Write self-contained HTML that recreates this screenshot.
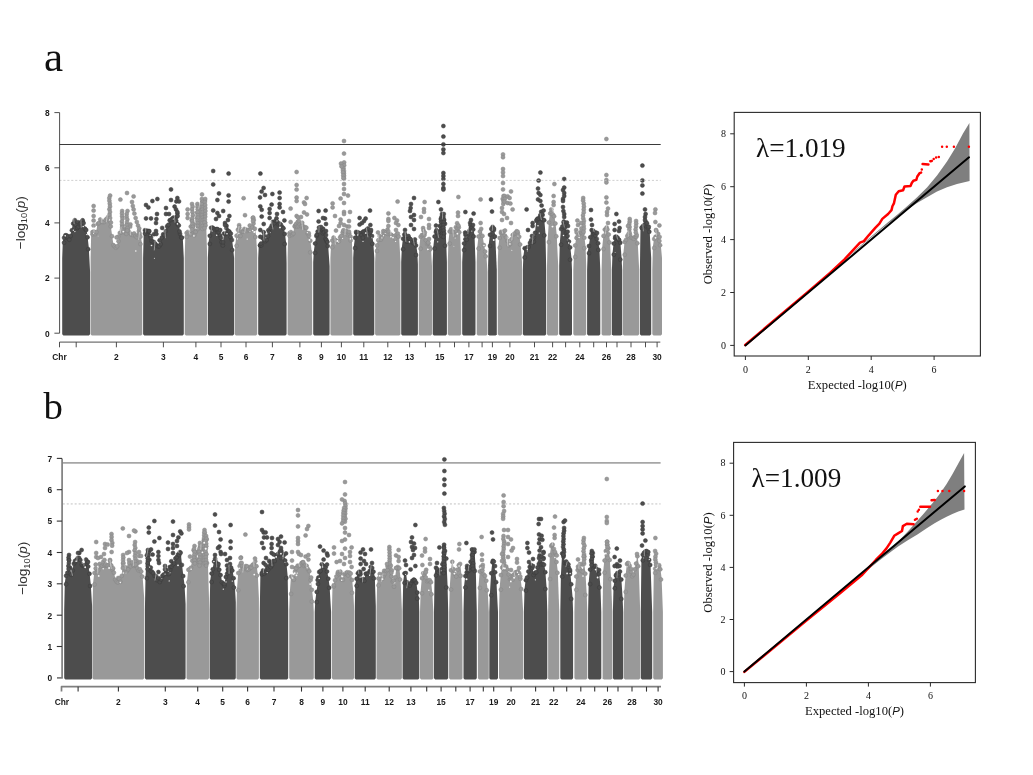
<!DOCTYPE html>
<html><head><meta charset="utf-8"><title>Figure</title>
<style>html,body{margin:0;padding:0;background:#fff}svg{display:block}</style>
</head><body>
<svg width="1033" height="775" viewBox="0 0 1033 775">
<rect width="1033" height="775" fill="#fff"/>
<g id="man-a">
<g fill="#4d4d4d" stroke="#3b3b3b" stroke-width="0.5"><path stroke="none" d="M62.2 334.2 L62.2 258 L62.8 241.3 L64.1 236.3 L65.4 233.9 L66.7 235.4 L68 236.8 L69.3 238.3 L70.6 234.6 L71.9 228.8 L73.2 222.2 L74.5 221.3 L75.8 223.3 L77.1 226.5 L78.4 225.2 L79.7 223.1 L81 221.9 L82.3 219.7 L83.6 221.6 L84.9 227.1 L86.2 228.6 L87.5 235.8 L88.8 247.8 L90.1 272 L90.1 334.2 L88.9 335.4 L63.4 335.4Z"/><circle cx="64.1" cy="242.7" r="2"/><circle cx="64.1" cy="237.8" r="2"/><circle cx="65.4" cy="235.3" r="2"/><circle cx="66.7" cy="236.9" r="2"/><circle cx="66.7" cy="235.4" r="2"/><circle cx="68" cy="238.2" r="2"/><circle cx="67.9" cy="236.5" r="2"/><circle cx="69.3" cy="239.7" r="2"/><circle cx="70.6" cy="236" r="2"/><circle cx="71.9" cy="230.3" r="2"/><circle cx="73.2" cy="223.6" r="2"/><circle cx="74.5" cy="222.7" r="2"/><circle cx="74.8" cy="220.2" r="2"/><circle cx="75.8" cy="224.8" r="2"/><circle cx="77.1" cy="228" r="2"/><circle cx="77.4" cy="227.8" r="2"/><circle cx="78.4" cy="226.6" r="2"/><circle cx="77.9" cy="222.2" r="2"/><circle cx="79.7" cy="224.5" r="2"/><circle cx="80.2" cy="223.7" r="2"/><circle cx="81" cy="223.4" r="2"/><circle cx="81.4" cy="221.8" r="2"/><circle cx="82.3" cy="221.2" r="2"/><circle cx="82.6" cy="220.3" r="2"/><circle cx="83.6" cy="223.1" r="2"/><circle cx="84.9" cy="228.6" r="2"/><circle cx="86.2" cy="230" r="2"/><circle cx="87.5" cy="237.3" r="2"/><circle cx="88.2" cy="249.2" r="2"/></g><g fill="#fff" fill-opacity="0.95"><circle cx="65.2" cy="235.8" r="0.83"/><circle cx="73.4" cy="230.2" r="0.66"/><circle cx="74.9" cy="231.6" r="0.67"/><circle cx="83.2" cy="226.5" r="0.78"/><circle cx="86.6" cy="234.6" r="0.55"/><path d="M73.6 218.5L74.2 223.8M80.9 218.8L81.2 227.3" stroke="#fff" stroke-width="0.55" stroke-opacity="0.75" fill="none" stroke-linecap="round"/></g>
<g fill="#999999" stroke="#868686" stroke-width="0.5"><path stroke="none" d="M90.6 334.2 L90.6 258 L91.2 232.8 L92.5 230.7 L93.8 230.1 L95.1 232.7 L96.4 230.7 L97.7 222.4 L99 221.5 L100.3 218.1 L101.6 220.2 L102.9 220.6 L104.2 220.6 L105.5 218.5 L106.8 217.2 L108.1 215.7 L109.4 219.1 L110.7 224.9 L112 234.8 L113.3 243.7 L114.6 245 L115.9 246.4 L117.2 244.8 L118.5 239.9 L119.8 231.4 L121.1 231.1 L122.4 227.5 L123.7 230.6 L125 229.8 L126.3 232.4 L127.6 228.4 L128.9 230.1 L130.2 232 L131.5 233.3 L132.8 233.5 L134.1 232 L135.4 234.5 L136.7 235.8 L138 233.5 L139.3 233.8 L140.6 235.2 L141.9 242.7 L142.3 258 L142.3 334.2 L141.1 335.4 L91.8 335.4Z"/><circle cx="92.5" cy="234.3" r="2"/><circle cx="92.5" cy="232.1" r="2"/><circle cx="93.8" cy="231.6" r="2"/><circle cx="95.1" cy="234.1" r="2"/><circle cx="96.4" cy="232.1" r="2"/><circle cx="97.7" cy="223.9" r="2"/><circle cx="99" cy="223" r="2"/><circle cx="100.3" cy="219.5" r="2"/><circle cx="101.6" cy="221.7" r="2"/><circle cx="102.9" cy="222.1" r="2"/><circle cx="104.2" cy="222" r="2"/><circle cx="105.5" cy="219.9" r="2"/><circle cx="106.8" cy="218.7" r="2"/><circle cx="108.1" cy="217.1" r="2"/><circle cx="109.4" cy="220.5" r="2"/><circle cx="109.4" cy="215" r="2"/><circle cx="110.7" cy="226.4" r="2"/><circle cx="110.9" cy="222.6" r="2"/><circle cx="112" cy="236.2" r="2"/><circle cx="113.3" cy="245.1" r="2"/><circle cx="114.6" cy="246.4" r="2"/><circle cx="115.9" cy="247.8" r="2"/><circle cx="117.2" cy="246.3" r="2"/><circle cx="118.5" cy="241.3" r="2"/><circle cx="118.2" cy="236.7" r="2"/><circle cx="119.8" cy="232.9" r="2"/><circle cx="121.1" cy="232.5" r="2"/><circle cx="122.4" cy="228.9" r="2"/><circle cx="122.5" cy="225.7" r="2"/><circle cx="123.7" cy="232.1" r="2"/><circle cx="123.1" cy="229.5" r="2"/><circle cx="125" cy="231.3" r="2"/><circle cx="126.3" cy="233.8" r="2"/><circle cx="125.9" cy="229" r="2"/><circle cx="127.6" cy="229.9" r="2"/><circle cx="127.4" cy="228.3" r="2"/><circle cx="128.9" cy="231.6" r="2"/><circle cx="130.2" cy="233.5" r="2"/><circle cx="130.4" cy="224.4" r="2"/><circle cx="130.1" cy="226.8" r="2"/><circle cx="131.5" cy="234.7" r="2"/><circle cx="132.8" cy="235" r="2"/><circle cx="134.1" cy="233.4" r="2"/><circle cx="135.4" cy="236" r="2"/><circle cx="136.7" cy="237.3" r="2"/><circle cx="138" cy="234.9" r="2"/><circle cx="139.3" cy="235.3" r="2"/><circle cx="138.9" cy="231.1" r="2"/><circle cx="139.6" cy="233.5" r="2"/><circle cx="140.4" cy="236.7" r="2"/><circle cx="140.4" cy="244.1" r="2"/><circle cx="110.1" cy="195.6" r="2"/><circle cx="109.3" cy="198.1" r="2"/><circle cx="109.4" cy="200.8" r="2"/><circle cx="109.8" cy="203.7" r="2"/><circle cx="110" cy="206.5" r="2"/><circle cx="109.4" cy="209.3" r="2"/><circle cx="110" cy="212" r="2"/><circle cx="109.3" cy="215" r="2"/><circle cx="110.1" cy="218" r="2"/><circle cx="122.1" cy="211" r="2"/><circle cx="122" cy="213.5" r="2"/><circle cx="122.1" cy="216.3" r="2"/><circle cx="122.5" cy="218.7" r="2"/><circle cx="121.9" cy="221.5" r="2"/><circle cx="122.1" cy="224.4" r="2"/><circle cx="122.2" cy="227.2" r="2"/><circle cx="122" cy="229.6" r="2"/><circle cx="127.5" cy="211" r="2"/><circle cx="126.7" cy="214" r="2"/><circle cx="126.6" cy="216.8" r="2"/><circle cx="127.3" cy="219.5" r="2"/><circle cx="127" cy="222.5" r="2"/><circle cx="126.7" cy="225.1" r="2"/><circle cx="127.5" cy="228" r="2"/><circle cx="127.3" cy="230.5" r="2"/><circle cx="93.6" cy="206" r="2"/><circle cx="93.6" cy="210.6" r="2"/><circle cx="93.6" cy="216" r="2"/><circle cx="93.6" cy="220.6" r="2"/><circle cx="93.6" cy="225.6" r="2"/><circle cx="120.4" cy="199.6" r="2"/><circle cx="127" cy="193" r="2"/><circle cx="133.6" cy="196.4" r="2"/><circle cx="116.6" cy="237.4" r="2"/><circle cx="132" cy="202" r="2"/><circle cx="132.8" cy="206" r="2"/><circle cx="133.6" cy="209.4" r="2"/><circle cx="134.4" cy="213.6" r="2"/><circle cx="135.6" cy="218" r="2"/><circle cx="136.8" cy="222" r="2"/><circle cx="138" cy="225.6" r="2"/><circle cx="139.2" cy="228.4" r="2"/></g><g fill="#fff" fill-opacity="0.95"><circle cx="93.5" cy="233.3" r="0.55"/><circle cx="98.1" cy="236.1" r="0.46"/><circle cx="109.6" cy="219.9" r="0.71"/><circle cx="123.3" cy="231.6" r="0.91"/><circle cx="135.8" cy="251" r="0.75"/><path d="M93.7 227.1L94.2 232.3M101.6 216.5L101.9 222.5M107.5 213.9L106.4 221.9M121.1 227.5L120.2 232.9M130.9 228.5L130.5 234.9M139.6 232.4L138.6 239.3" stroke="#fff" stroke-width="0.55" stroke-opacity="0.75" fill="none" stroke-linecap="round"/></g>
<g fill="#4d4d4d" stroke="#3b3b3b" stroke-width="0.5"><path stroke="none" d="M143.1 334.2 L143.1 258 L143.7 232.2 L145 228.8 L146.3 229.6 L147.6 229.4 L148.9 230.1 L150.2 234.3 L151.5 239.7 L152.8 240.1 L154.1 240.7 L155.4 242.7 L156.7 243.9 L158 244.9 L159.3 244.8 L160.6 242.8 L161.9 236 L163.2 232.9 L164.5 233.8 L165.8 229.6 L167.1 224.8 L168.4 223.4 L169.7 218.9 L171 218.5 L172.3 217.1 L173.6 216.1 L174.9 217.1 L176.2 219.4 L177.5 222.6 L178.8 223.9 L180.1 232.5 L181.4 236 L182.7 236.2 L183.8 258 L183.8 334.2 L182.6 335.4 L144.3 335.4Z"/><circle cx="145" cy="233.6" r="2"/><circle cx="145" cy="230.2" r="2"/><circle cx="146.3" cy="231.1" r="2"/><circle cx="147.6" cy="230.8" r="2"/><circle cx="148.9" cy="231.6" r="2"/><circle cx="149.3" cy="231.1" r="2"/><circle cx="150.2" cy="235.7" r="2"/><circle cx="151.5" cy="241.1" r="2"/><circle cx="151" cy="237.8" r="2"/><circle cx="152.8" cy="241.6" r="2"/><circle cx="154.1" cy="242.2" r="2"/><circle cx="154" cy="234.2" r="2"/><circle cx="155.4" cy="244.1" r="2"/><circle cx="156.7" cy="245.4" r="2"/><circle cx="158" cy="246.4" r="2"/><circle cx="159.3" cy="246.2" r="2"/><circle cx="159.6" cy="240.3" r="2"/><circle cx="160.6" cy="244.2" r="2"/><circle cx="161.9" cy="237.5" r="2"/><circle cx="162.2" cy="227.9" r="2"/><circle cx="163.2" cy="234.3" r="2"/><circle cx="164.5" cy="235.2" r="2"/><circle cx="165.8" cy="231" r="2"/><circle cx="167.1" cy="226.2" r="2"/><circle cx="168.4" cy="224.8" r="2"/><circle cx="169.7" cy="220.3" r="2"/><circle cx="171" cy="219.9" r="2"/><circle cx="172.3" cy="218.5" r="2"/><circle cx="173.6" cy="217.5" r="2"/><circle cx="174.9" cy="218.6" r="2"/><circle cx="176.2" cy="220.8" r="2"/><circle cx="176.5" cy="217.1" r="2"/><circle cx="177.5" cy="224" r="2"/><circle cx="177.4" cy="213.6" r="2"/><circle cx="177.6" cy="216" r="2"/><circle cx="178.8" cy="225.4" r="2"/><circle cx="180.1" cy="233.9" r="2"/><circle cx="179.5" cy="231.4" r="2"/><circle cx="181.4" cy="237.5" r="2"/><circle cx="181.9" cy="237.7" r="2"/><circle cx="146" cy="205" r="2"/><circle cx="148.4" cy="207.4" r="2"/><circle cx="152.4" cy="201" r="2"/><circle cx="157.4" cy="199" r="2"/><circle cx="146" cy="218.4" r="2"/><circle cx="151" cy="218.4" r="2"/><circle cx="157" cy="214" r="2"/><circle cx="156.4" cy="219" r="2"/><circle cx="156" cy="223" r="2"/><circle cx="156" cy="231" r="2"/><circle cx="156.4" cy="234" r="2"/><circle cx="166" cy="208" r="2"/><circle cx="166" cy="214" r="2"/><circle cx="171" cy="189.4" r="2"/><circle cx="171" cy="200" r="2"/><circle cx="177.4" cy="198" r="2"/><circle cx="176.4" cy="201.4" r="2"/><circle cx="179" cy="201.4" r="2"/><circle cx="174.6" cy="206.6" r="2"/><circle cx="176" cy="209.4" r="2"/><circle cx="177.4" cy="212" r="2"/><circle cx="169" cy="214" r="2"/></g><g fill="#fff" fill-opacity="0.95"><circle cx="150.1" cy="235.2" r="0.56"/><circle cx="151.5" cy="245.5" r="0.83"/><circle cx="154.4" cy="258.2" r="0.50"/><circle cx="173.3" cy="219" r="0.59"/><circle cx="177.5" cy="223.9" r="0.79"/><path d="M145.8 223.1L145.6 232.1M155.1 240.6L154.3 250M164.8 228.7L165.5 237.8M174 212.9L175 222.3" stroke="#fff" stroke-width="0.55" stroke-opacity="0.75" fill="none" stroke-linecap="round"/></g>
<g fill="#999999" stroke="#868686" stroke-width="0.5"><path stroke="none" d="M184.7 334.2 L184.7 258 L185.3 235.4 L186.6 231.5 L187.9 230.5 L189.2 231.8 L190.5 232.8 L191.8 218.8 L193.1 224.9 L194.4 233.8 L195.7 230.3 L197 216.5 L198.3 205.9 L199.6 205.6 L200.9 205 L202.2 200.9 L203.5 201.6 L204.8 199.4 L206.1 221.3 L207.2 258 L207.2 334.2 L206 335.4 L185.9 335.4Z"/><circle cx="186.6" cy="236.9" r="2"/><circle cx="186.6" cy="233" r="2"/><circle cx="187.9" cy="231.9" r="2"/><circle cx="189.2" cy="233.3" r="2"/><circle cx="190.5" cy="234.3" r="2"/><circle cx="190.8" cy="226.6" r="2"/><circle cx="191.8" cy="220.2" r="2"/><circle cx="193.1" cy="226.3" r="2"/><circle cx="193.7" cy="224.2" r="2"/><circle cx="194.4" cy="235.2" r="2"/><circle cx="193.9" cy="230.6" r="2"/><circle cx="195.7" cy="231.8" r="2"/><circle cx="197" cy="217.9" r="2"/><circle cx="197.1" cy="212.8" r="2"/><circle cx="198.3" cy="207.3" r="2"/><circle cx="199.6" cy="207.1" r="2"/><circle cx="200.9" cy="206.4" r="2"/><circle cx="202.2" cy="202.4" r="2"/><circle cx="202.3" cy="202.1" r="2"/><circle cx="203.5" cy="203" r="2"/><circle cx="204.8" cy="200.8" r="2"/><circle cx="205.3" cy="222.8" r="2"/><circle cx="192" cy="204" r="2"/><circle cx="192.6" cy="206.7" r="2"/><circle cx="192" cy="209.3" r="2"/><circle cx="192.5" cy="212.2" r="2"/><circle cx="192.9" cy="215.2" r="2"/><circle cx="192.3" cy="218.3" r="2"/><circle cx="192.2" cy="221.2" r="2"/><circle cx="192.3" cy="223.9" r="2"/><circle cx="192.8" cy="226.9" r="2"/><circle cx="192.2" cy="229.5" r="2"/><circle cx="197.4" cy="204" r="2"/><circle cx="197.5" cy="206.7" r="2"/><circle cx="197.7" cy="209.2" r="2"/><circle cx="197.6" cy="212.2" r="2"/><circle cx="197.7" cy="215.2" r="2"/><circle cx="197.9" cy="217.7" r="2"/><circle cx="197.4" cy="220.7" r="2"/><circle cx="197.6" cy="223.1" r="2"/><circle cx="197.7" cy="225.9" r="2"/><circle cx="197.8" cy="229" r="2"/><circle cx="201.9" cy="199" r="2"/><circle cx="202.7" cy="201.8" r="2"/><circle cx="201.9" cy="204.2" r="2"/><circle cx="202.8" cy="207.2" r="2"/><circle cx="202.5" cy="209.6" r="2"/><circle cx="202.7" cy="212.1" r="2"/><circle cx="202.1" cy="215" r="2"/><circle cx="202.7" cy="217.5" r="2"/><circle cx="202.7" cy="220.3" r="2"/><circle cx="202.2" cy="223" r="2"/><circle cx="202.6" cy="226" r="2"/><circle cx="202.4" cy="228.8" r="2"/><circle cx="205.2" cy="199" r="2"/><circle cx="204.9" cy="202" r="2"/><circle cx="205.2" cy="205" r="2"/><circle cx="205.3" cy="208" r="2"/><circle cx="205.4" cy="211" r="2"/><circle cx="205.2" cy="214.1" r="2"/><circle cx="205.2" cy="216.8" r="2"/><circle cx="204.9" cy="219.8" r="2"/><circle cx="204.6" cy="222.5" r="2"/><circle cx="205.5" cy="225.4" r="2"/><circle cx="204.6" cy="228.1" r="2"/><circle cx="202" cy="194.4" r="2"/><circle cx="187.6" cy="209.4" r="2"/><circle cx="187.6" cy="214" r="2"/><circle cx="187.6" cy="218" r="2"/></g><g fill="#fff" fill-opacity="0.95"><circle cx="193.9" cy="235.9" r="0.79"/><circle cx="196.8" cy="228.6" r="0.49"/><path d="M188.5 228.5L189.9 234.1M200 202.7L198.8 208.4" stroke="#fff" stroke-width="0.55" stroke-opacity="0.75" fill="none" stroke-linecap="round"/></g>
<g fill="#4d4d4d" stroke="#3b3b3b" stroke-width="0.5"><path stroke="none" d="M207.9 334.2 L207.9 258 L208.5 242.5 L209.8 234.4 L211.1 226.3 L212.4 226.2 L213.7 227.1 L215 227.9 L216.3 227.7 L217.6 231 L218.9 230.7 L220.2 234 L221.5 240.6 L222.8 244 L224.1 232 L225.4 232.5 L226.7 231.8 L228 229.3 L229.3 230.1 L230.6 235.7 L231.9 238.5 L233.2 248.6 L234.1 258 L234.1 334.2 L232.9 335.4 L209.1 335.4Z"/><circle cx="209.8" cy="243.9" r="2"/><circle cx="209.8" cy="235.8" r="2"/><circle cx="211.1" cy="227.8" r="2"/><circle cx="212.4" cy="227.6" r="2"/><circle cx="213.7" cy="228.6" r="2"/><circle cx="215" cy="229.4" r="2"/><circle cx="216.3" cy="229.1" r="2"/><circle cx="217.6" cy="232.5" r="2"/><circle cx="217.5" cy="229.1" r="2"/><circle cx="218.9" cy="232.2" r="2"/><circle cx="220.2" cy="235.5" r="2"/><circle cx="220.2" cy="230.1" r="2"/><circle cx="221.5" cy="242.1" r="2"/><circle cx="220.9" cy="238" r="2"/><circle cx="222.8" cy="245.5" r="2"/><circle cx="223" cy="242.2" r="2"/><circle cx="224.1" cy="233.5" r="2"/><circle cx="225.4" cy="233.9" r="2"/><circle cx="226.7" cy="233.3" r="2"/><circle cx="226.5" cy="225.8" r="2"/><circle cx="226.3" cy="228.2" r="2"/><circle cx="228" cy="230.7" r="2"/><circle cx="229.3" cy="231.5" r="2"/><circle cx="230.6" cy="237.2" r="2"/><circle cx="230.8" cy="233.6" r="2"/><circle cx="231.9" cy="240" r="2"/><circle cx="232.2" cy="250.1" r="2"/><circle cx="213.2" cy="171" r="2"/><circle cx="213.2" cy="184.4" r="2"/><circle cx="219" cy="193.4" r="2"/><circle cx="217.4" cy="200" r="2"/><circle cx="213.2" cy="210.4" r="2"/><circle cx="217.4" cy="213" r="2"/><circle cx="219" cy="216" r="2"/><circle cx="216" cy="219" r="2"/><circle cx="223.2" cy="211" r="2"/><circle cx="228.6" cy="173.6" r="2"/><circle cx="228.6" cy="195.4" r="2"/><circle cx="228.6" cy="201.6" r="2"/><circle cx="229.4" cy="216" r="2"/><circle cx="228" cy="220" r="2"/><circle cx="225" cy="223" r="2"/><circle cx="225" cy="225" r="2"/></g><g fill="#fff" fill-opacity="0.95"><circle cx="212.2" cy="231" r="0.62"/><circle cx="216.7" cy="235.3" r="0.74"/><circle cx="227" cy="233.7" r="0.74"/><path d="M211.3 224.2L211.4 230.3M224.9 228L224.6 233.9" stroke="#fff" stroke-width="0.55" stroke-opacity="0.75" fill="none" stroke-linecap="round"/></g>
<g fill="#999999" stroke="#868686" stroke-width="0.5"><path stroke="none" d="M234.7 334.2 L234.7 258 L235.3 244.4 L236.6 234.2 L237.9 228.3 L239.2 231.6 L240.5 234.5 L241.8 229.7 L243.1 230.3 L244.4 227.5 L245.7 228.1 L247 229.5 L248.3 228.3 L249.6 228.7 L250.9 227.6 L252.2 226 L253.5 222.1 L254.8 227.3 L256.1 235.5 L257.2 254 L257.2 334.2 L256 335.4 L235.9 335.4Z"/><circle cx="236.6" cy="245.8" r="2"/><circle cx="236.6" cy="235.7" r="2"/><circle cx="237.9" cy="229.8" r="2"/><circle cx="239.2" cy="233" r="2"/><circle cx="239.1" cy="225.2" r="2"/><circle cx="239.3" cy="227.6" r="2"/><circle cx="240.5" cy="235.9" r="2"/><circle cx="241.8" cy="231.2" r="2"/><circle cx="243.1" cy="231.7" r="2"/><circle cx="244.4" cy="228.9" r="2"/><circle cx="245.7" cy="229.6" r="2"/><circle cx="247" cy="231" r="2"/><circle cx="248.3" cy="229.8" r="2"/><circle cx="249.6" cy="230.1" r="2"/><circle cx="249.8" cy="225.5" r="2"/><circle cx="250.9" cy="229.1" r="2"/><circle cx="252.2" cy="227.4" r="2"/><circle cx="252.8" cy="218" r="2"/><circle cx="253.5" cy="223.5" r="2"/><circle cx="253.2" cy="217.6" r="2"/><circle cx="253.8" cy="220" r="2"/><circle cx="254.8" cy="228.7" r="2"/><circle cx="255.3" cy="237" r="2"/><circle cx="243.6" cy="198.2" r="2"/><circle cx="245" cy="215.2" r="2"/><circle cx="253" cy="221" r="2"/></g><g fill="#fff" fill-opacity="0.95"><circle cx="237.5" cy="238.9" r="0.55"/><circle cx="238.9" cy="233.6" r="0.67"/><circle cx="247.2" cy="239.1" r="0.64"/><circle cx="250" cy="231.2" r="0.50"/><circle cx="252.6" cy="230.5" r="0.76"/><circle cx="254.3" cy="232" r="0.97"/><path d="M239 226.4L237.5 234.8M245.8 226.2L244.7 232.8" stroke="#fff" stroke-width="0.55" stroke-opacity="0.75" fill="none" stroke-linecap="round"/></g>
<g fill="#4d4d4d" stroke="#3b3b3b" stroke-width="0.5"><path stroke="none" d="M258.2 334.2 L258.2 258 L258.8 243.8 L260.1 244 L261.4 243.9 L262.7 236.8 L264 234.5 L265.3 239.7 L266.6 238.6 L267.9 234.9 L269.2 230.7 L270.5 226.6 L271.8 223.9 L273.1 220.4 L274.4 221.7 L275.7 219.3 L277 220 L278.3 222.8 L279.6 222 L280.9 223.3 L282.2 225.5 L283.5 226.8 L284.8 232.5 L286.1 242.6 L286.6 263 L286.6 334.2 L285.4 335.4 L259.4 335.4Z"/><circle cx="260.1" cy="245.3" r="2"/><circle cx="260.1" cy="245.5" r="2"/><circle cx="261.4" cy="245.3" r="2"/><circle cx="262.7" cy="238.3" r="2"/><circle cx="264" cy="235.9" r="2"/><circle cx="265.3" cy="241.2" r="2"/><circle cx="266.6" cy="240" r="2"/><circle cx="267.9" cy="236.3" r="2"/><circle cx="268.4" cy="230.2" r="2"/><circle cx="269.2" cy="232.1" r="2"/><circle cx="270.5" cy="228" r="2"/><circle cx="271.8" cy="225.4" r="2"/><circle cx="273.1" cy="221.8" r="2"/><circle cx="274.4" cy="223.2" r="2"/><circle cx="275.7" cy="220.7" r="2"/><circle cx="277" cy="221.5" r="2"/><circle cx="276.5" cy="218.3" r="2"/><circle cx="278.3" cy="224.3" r="2"/><circle cx="279.6" cy="223.5" r="2"/><circle cx="280.9" cy="224.7" r="2"/><circle cx="282.2" cy="227" r="2"/><circle cx="283.5" cy="228.3" r="2"/><circle cx="284.7" cy="234" r="2"/><circle cx="284.7" cy="244" r="2"/><circle cx="260.4" cy="173.6" r="2"/><circle cx="263.6" cy="188" r="2"/><circle cx="261.6" cy="191.6" r="2"/><circle cx="265" cy="195" r="2"/><circle cx="260" cy="197.4" r="2"/><circle cx="260.3" cy="206.4" r="2"/><circle cx="261.7" cy="209.8" r="2"/><circle cx="261.7" cy="216.6" r="2"/><circle cx="263.7" cy="224" r="2"/><circle cx="260.3" cy="230" r="2"/><circle cx="263.7" cy="232.2" r="2"/><circle cx="260.3" cy="236.8" r="2"/><circle cx="261" cy="243.6" r="2"/><circle cx="272.4" cy="194" r="2"/><circle cx="279.6" cy="192.6" r="2"/><circle cx="279.6" cy="198" r="2"/><circle cx="271.6" cy="204.6" r="2"/><circle cx="269.6" cy="209" r="2"/><circle cx="269.6" cy="213" r="2"/><circle cx="269.6" cy="218" r="2"/><circle cx="279.6" cy="204" r="2"/><circle cx="279.6" cy="207.4" r="2"/><circle cx="283" cy="212" r="2"/><circle cx="277" cy="214" r="2"/><circle cx="284.4" cy="220.4" r="2"/></g><g fill="#fff" fill-opacity="0.95"><circle cx="270.4" cy="232.7" r="0.48"/><circle cx="277" cy="220.8" r="0.58"/><circle cx="280" cy="227.4" r="0.96"/><path d="M263.4 231.4L264 240.2M271.6 221.2L272.9 229M280.6 220.7L279.8 225.1" stroke="#fff" stroke-width="0.55" stroke-opacity="0.75" fill="none" stroke-linecap="round"/></g>
<g fill="#999999" stroke="#868686" stroke-width="0.5"><path stroke="none" d="M287.6 334.2 L287.6 258 L288.2 234.3 L289.5 231.8 L290.8 230.7 L292.1 233.4 L293.4 232.1 L294.7 225.1 L296 223.7 L297.3 225 L298.6 224.6 L299.9 223.2 L301.2 224.7 L302.5 223.9 L303.8 226.3 L305.1 225.7 L306.4 226.2 L307.7 232.1 L309 234.3 L310.3 239.3 L311.6 250.8 L312.2 262 L312.2 334.2 L311 335.4 L288.8 335.4Z"/><circle cx="289.5" cy="235.8" r="2"/><circle cx="289.5" cy="233.2" r="2"/><circle cx="290.8" cy="232.1" r="2"/><circle cx="292.1" cy="234.9" r="2"/><circle cx="293.4" cy="233.6" r="2"/><circle cx="294.7" cy="226.6" r="2"/><circle cx="295" cy="225.8" r="2"/><circle cx="296" cy="225.2" r="2"/><circle cx="296" cy="224.1" r="2"/><circle cx="297.3" cy="226.5" r="2"/><circle cx="297.6" cy="222.1" r="2"/><circle cx="298.6" cy="226.1" r="2"/><circle cx="298.8" cy="221" r="2"/><circle cx="299.9" cy="224.6" r="2"/><circle cx="301.2" cy="226.2" r="2"/><circle cx="302.5" cy="225.4" r="2"/><circle cx="302.2" cy="222.8" r="2"/><circle cx="303.8" cy="227.8" r="2"/><circle cx="305.1" cy="227.2" r="2"/><circle cx="306.4" cy="227.7" r="2"/><circle cx="307.7" cy="233.5" r="2"/><circle cx="309" cy="235.8" r="2"/><circle cx="308.8" cy="233.2" r="2"/><circle cx="310.3" cy="240.7" r="2"/><circle cx="310.3" cy="252.3" r="2"/><circle cx="296.6" cy="172" r="2"/><circle cx="296.6" cy="185" r="2"/><circle cx="296.6" cy="189.6" r="2"/><circle cx="296.6" cy="197.6" r="2"/><circle cx="296.6" cy="201" r="2"/><circle cx="290.6" cy="208.6" r="2"/><circle cx="290.6" cy="222" r="2"/><circle cx="306.6" cy="198" r="2"/><circle cx="304" cy="202.4" r="2"/><circle cx="305" cy="204" r="2"/><circle cx="304" cy="212.4" r="2"/><circle cx="307" cy="214.4" r="2"/><circle cx="296.6" cy="216" r="2"/><circle cx="298" cy="217.4" r="2"/><circle cx="301" cy="217" r="2"/></g><g fill="#fff" fill-opacity="0.95"><circle cx="307.3" cy="232.6" r="0.69"/><circle cx="309.4" cy="240" r="0.89"/><path d="M290.6 225.7L289.6 231.1M301.8 221.2L302.7 229.7" stroke="#fff" stroke-width="0.55" stroke-opacity="0.75" fill="none" stroke-linecap="round"/></g>
<g fill="#4d4d4d" stroke="#3b3b3b" stroke-width="0.5"><path stroke="none" d="M313.2 334.2 L313.2 262 L313.8 251.4 L315.1 242 L316.4 234.7 L317.7 230.1 L319 226.2 L320.3 227.5 L321.6 227.8 L322.9 231.8 L324.2 230.7 L325.5 237.2 L326.8 240 L328.1 244.5 L329.6 266 L329.6 334.2 L328.4 335.4 L314.4 335.4Z"/><circle cx="315.1" cy="252.9" r="2"/><circle cx="315.1" cy="243.5" r="2"/><circle cx="316.4" cy="236.1" r="2"/><circle cx="316.8" cy="234.7" r="2"/><circle cx="317.7" cy="231.5" r="2"/><circle cx="319" cy="227.6" r="2"/><circle cx="320.3" cy="228.9" r="2"/><circle cx="321.6" cy="229.2" r="2"/><circle cx="322.9" cy="233.3" r="2"/><circle cx="323.1" cy="228.7" r="2"/><circle cx="324.2" cy="232.2" r="2"/><circle cx="325.5" cy="238.7" r="2"/><circle cx="326.8" cy="241.5" r="2"/><circle cx="326.4" cy="239.9" r="2"/><circle cx="327.7" cy="246" r="2"/><circle cx="318.6" cy="211" r="2"/><circle cx="325.6" cy="210.6" r="2"/><circle cx="325" cy="218.6" r="2"/><circle cx="323" cy="218" r="2"/><circle cx="318.6" cy="221.4" r="2"/><circle cx="326" cy="224" r="2"/><circle cx="321" cy="227" r="2"/><circle cx="326" cy="231" r="2"/><circle cx="326" cy="235" r="2"/><circle cx="327.4" cy="242" r="2"/></g><g fill="#fff" fill-opacity="0.95"><path d="M319.1 226.5L318.9 232.2" stroke="#fff" stroke-width="0.55" stroke-opacity="0.75" fill="none" stroke-linecap="round"/></g>
<g fill="#999999" stroke="#868686" stroke-width="0.5"><path stroke="none" d="M330.4 334.2 L330.4 258 L331 245.8 L332.3 239.1 L333.6 236.1 L334.9 238.5 L336.2 239 L337.5 240.4 L338.8 239.9 L340.1 235.9 L341.4 234.2 L342.7 230.9 L344 229.3 L345.3 229.8 L346.6 229.6 L347.9 233.5 L349.2 232.1 L350.5 235 L351.8 239 L352.5 258 L352.5 334.2 L351.3 335.4 L331.6 335.4Z"/><circle cx="332.3" cy="247.3" r="2"/><circle cx="332.3" cy="240.6" r="2"/><circle cx="333.6" cy="237.6" r="2"/><circle cx="334.9" cy="239.9" r="2"/><circle cx="336.2" cy="240.5" r="2"/><circle cx="337.5" cy="241.8" r="2"/><circle cx="338.8" cy="241.4" r="2"/><circle cx="340.1" cy="237.3" r="2"/><circle cx="341.4" cy="235.7" r="2"/><circle cx="342.7" cy="232.3" r="2"/><circle cx="344" cy="230.7" r="2"/><circle cx="343.4" cy="230.3" r="2"/><circle cx="345.3" cy="231.3" r="2"/><circle cx="346.6" cy="231.1" r="2"/><circle cx="346.8" cy="226.5" r="2"/><circle cx="347.9" cy="234.9" r="2"/><circle cx="349.2" cy="233.6" r="2"/><circle cx="349" cy="231.7" r="2"/><circle cx="350.5" cy="236.5" r="2"/><circle cx="350.6" cy="240.5" r="2"/><circle cx="344.1" cy="162.4" r="2"/><circle cx="344.1" cy="165.3" r="2"/><circle cx="343.5" cy="168.2" r="2"/><circle cx="343.9" cy="170.9" r="2"/><circle cx="343.9" cy="173.3" r="2"/><circle cx="344" cy="175.7" r="2"/><circle cx="344" cy="178.5" r="2"/><circle cx="342.9" cy="170" r="2"/><circle cx="343" cy="172.4" r="2"/><circle cx="343.3" cy="175.4" r="2"/><circle cx="343.4" cy="178" r="2"/><circle cx="341" cy="163.6" r="2"/><circle cx="341.5" cy="166.4" r="2"/><circle cx="344" cy="141" r="2"/><circle cx="344" cy="153.6" r="2"/><circle cx="344" cy="184" r="2"/><circle cx="344" cy="189" r="2"/><circle cx="344" cy="194" r="2"/><circle cx="348" cy="195.6" r="2"/><circle cx="340.6" cy="198.6" r="2"/><circle cx="344" cy="203" r="2"/><circle cx="332.6" cy="203.4" r="2"/><circle cx="332.6" cy="207.4" r="2"/><circle cx="344" cy="212" r="2"/><circle cx="344" cy="214" r="2"/><circle cx="350" cy="212" r="2"/><circle cx="335" cy="216" r="2"/><circle cx="340.6" cy="219.6" r="2"/><circle cx="349" cy="221" r="2"/><circle cx="340.6" cy="223" r="2"/><circle cx="339" cy="226" r="2"/><circle cx="349" cy="226.6" r="2"/><circle cx="336" cy="230.6" r="2"/><circle cx="344" cy="225" r="2"/></g><g fill="#fff" fill-opacity="0.95"><circle cx="337.3" cy="241" r="0.94"/><circle cx="338.7" cy="242.1" r="0.53"/><circle cx="342.5" cy="238.3" r="0.66"/><circle cx="350.4" cy="238.9" r="0.82"/><path d="M334.6 235L335.4 244.1M345.3 227.2L345 234.6" stroke="#fff" stroke-width="0.55" stroke-opacity="0.75" fill="none" stroke-linecap="round"/></g>
<g fill="#4d4d4d" stroke="#3b3b3b" stroke-width="0.5"><path stroke="none" d="M353.2 334.2 L353.2 258 L353.8 246.7 L355.1 236.4 L356.4 231.4 L357.7 230.8 L359 231.5 L360.3 231.8 L361.6 233.7 L362.9 236.3 L364.2 232 L365.5 229.3 L366.8 231.4 L368.1 230.8 L369.4 231.7 L370.7 230.2 L372 234.6 L373.3 242.3 L374.3 258 L374.3 334.2 L373.1 335.4 L354.4 335.4Z"/><circle cx="355.1" cy="248.1" r="2"/><circle cx="355.1" cy="237.8" r="2"/><circle cx="356.4" cy="232.9" r="2"/><circle cx="356.1" cy="231.9" r="2"/><circle cx="357.7" cy="232.2" r="2"/><circle cx="359" cy="233" r="2"/><circle cx="360.3" cy="233.3" r="2"/><circle cx="361.6" cy="235.1" r="2"/><circle cx="362.9" cy="237.8" r="2"/><circle cx="362.9" cy="231.9" r="2"/><circle cx="364.2" cy="233.4" r="2"/><circle cx="363.7" cy="231.4" r="2"/><circle cx="365.5" cy="230.8" r="2"/><circle cx="366.8" cy="232.8" r="2"/><circle cx="366.8" cy="229.5" r="2"/><circle cx="368.1" cy="232.3" r="2"/><circle cx="367.9" cy="228.5" r="2"/><circle cx="369.4" cy="233.1" r="2"/><circle cx="370.7" cy="231.7" r="2"/><circle cx="372" cy="236" r="2"/><circle cx="372.4" cy="243.8" r="2"/><circle cx="370" cy="210.6" r="2"/><circle cx="365.6" cy="218.6" r="2"/><circle cx="359.6" cy="218" r="2"/><circle cx="364" cy="221" r="2"/><circle cx="362" cy="223" r="2"/><circle cx="359.6" cy="224.6" r="2"/><circle cx="370.4" cy="225" r="2"/><circle cx="371" cy="230" r="2"/></g><g fill="#fff" fill-opacity="0.95"><circle cx="357.7" cy="235" r="0.72"/><circle cx="363" cy="241.3" r="0.65"/><circle cx="365.7" cy="233" r="0.87"/><circle cx="371.9" cy="237.8" r="0.55"/><path d="M357.7 228.1L358.1 234.4M366.3 227.7L367.8 236.9" stroke="#fff" stroke-width="0.55" stroke-opacity="0.75" fill="none" stroke-linecap="round"/></g>
<g fill="#999999" stroke="#868686" stroke-width="0.5"><path stroke="none" d="M375.1 334.2 L375.1 262 L375.7 249.6 L377 244 L378.3 238.7 L379.6 238 L380.9 238.2 L382.2 235.6 L383.5 231.7 L384.8 230.2 L386.1 231 L387.4 232.4 L388.7 230.3 L390 233 L391.3 233.3 L392.6 234.6 L393.9 234.8 L395.2 237.2 L396.5 232.9 L397.8 232.2 L399.1 235.1 L400.5 262 L400.5 334.2 L399.3 335.4 L376.3 335.4Z"/><circle cx="377" cy="251" r="2"/><circle cx="377" cy="245.4" r="2"/><circle cx="378.3" cy="240.2" r="2"/><circle cx="379.6" cy="239.4" r="2"/><circle cx="379.7" cy="236" r="2"/><circle cx="380.9" cy="239.6" r="2"/><circle cx="382.2" cy="237" r="2"/><circle cx="383.5" cy="233.2" r="2"/><circle cx="383.3" cy="231.1" r="2"/><circle cx="384.8" cy="231.7" r="2"/><circle cx="386.1" cy="232.4" r="2"/><circle cx="387.4" cy="233.8" r="2"/><circle cx="387.6" cy="229.5" r="2"/><circle cx="388.7" cy="231.7" r="2"/><circle cx="390" cy="234.4" r="2"/><circle cx="391.3" cy="234.8" r="2"/><circle cx="392.6" cy="236.1" r="2"/><circle cx="393.9" cy="236.3" r="2"/><circle cx="395.2" cy="238.6" r="2"/><circle cx="396.5" cy="234.3" r="2"/><circle cx="397.8" cy="233.6" r="2"/><circle cx="398.6" cy="236.6" r="2"/><circle cx="397.6" cy="201.6" r="2"/><circle cx="388.4" cy="213.4" r="2"/><circle cx="388.4" cy="219" r="2"/><circle cx="388.4" cy="221" r="2"/><circle cx="394.4" cy="218" r="2"/><circle cx="397" cy="220.4" r="2"/><circle cx="396" cy="223" r="2"/><circle cx="398.4" cy="225" r="2"/><circle cx="388.4" cy="226" r="2"/><circle cx="378" cy="232.4" r="2"/><circle cx="396" cy="230" r="2"/></g><g fill="#fff" fill-opacity="0.95"><circle cx="381.9" cy="237.9" r="0.59"/><circle cx="383.5" cy="235.7" r="0.60"/><circle cx="385.2" cy="233.5" r="0.55"/><circle cx="390.9" cy="236.7" r="0.86"/><circle cx="393" cy="237.6" r="0.90"/><circle cx="395.6" cy="241.3" r="0.59"/><path d="M378.5 235.7L378 240.2M390.2 229.3L390.9 234.5" stroke="#fff" stroke-width="0.55" stroke-opacity="0.75" fill="none" stroke-linecap="round"/></g>
<g fill="#4d4d4d" stroke="#3b3b3b" stroke-width="0.5"><path stroke="none" d="M401.2 334.2 L401.2 262 L401.8 247.8 L403.1 237.3 L404.4 233.2 L405.7 237.5 L407 240.2 L408.3 236 L409.6 237 L410.9 238 L412.2 240.8 L413.5 241.5 L414.8 241 L416.1 244 L417.4 253.6 L417.9 264 L417.9 334.2 L416.7 335.4 L402.4 335.4Z"/><circle cx="403.1" cy="249.2" r="2"/><circle cx="403.1" cy="238.7" r="2"/><circle cx="404.4" cy="234.7" r="2"/><circle cx="405.7" cy="238.9" r="2"/><circle cx="407" cy="241.7" r="2"/><circle cx="408.3" cy="237.5" r="2"/><circle cx="408.5" cy="236.1" r="2"/><circle cx="409.6" cy="238.5" r="2"/><circle cx="410.9" cy="239.5" r="2"/><circle cx="412.2" cy="242.2" r="2"/><circle cx="413.5" cy="243" r="2"/><circle cx="414.8" cy="242.4" r="2"/><circle cx="414.9" cy="239.4" r="2"/><circle cx="416" cy="245.4" r="2"/><circle cx="416" cy="255" r="2"/><circle cx="414" cy="198" r="2"/><circle cx="411" cy="204" r="2"/><circle cx="410.6" cy="208" r="2"/><circle cx="410" cy="211" r="2"/><circle cx="414" cy="215" r="2"/><circle cx="411" cy="217" r="2"/><circle cx="414" cy="220" r="2"/><circle cx="411" cy="225" r="2"/><circle cx="414" cy="229" r="2"/><circle cx="405" cy="230" r="2"/><circle cx="405" cy="234" r="2"/></g><g fill="#fff" fill-opacity="0.95"><circle cx="409.4" cy="241.9" r="0.80"/><path d="M405.1 231.9L405.8 241.4M412.9 236.9L414.4 245" stroke="#fff" stroke-width="0.55" stroke-opacity="0.75" fill="none" stroke-linecap="round"/></g>
<g fill="#999999" stroke="#868686" stroke-width="0.5"><path stroke="none" d="M418.7 334.2 L418.7 262 L419.3 247.2 L420.6 235.3 L421.9 233.6 L423.2 233.5 L424.5 233.5 L425.8 238.9 L427.1 242.4 L428.4 242 L429.7 245.7 L431 247.9 L432 266 L432 334.2 L430.8 335.4 L419.9 335.4Z"/><circle cx="420.6" cy="248.7" r="2"/><circle cx="420.6" cy="236.7" r="2"/><circle cx="421.9" cy="235.1" r="2"/><circle cx="423.2" cy="234.9" r="2"/><circle cx="423.1" cy="228.1" r="2"/><circle cx="423.5" cy="230.5" r="2"/><circle cx="424.5" cy="234.9" r="2"/><circle cx="424.8" cy="232.6" r="2"/><circle cx="425.8" cy="240.3" r="2"/><circle cx="427.1" cy="243.9" r="2"/><circle cx="428.4" cy="243.5" r="2"/><circle cx="428.2" cy="242.5" r="2"/><circle cx="429.7" cy="247.2" r="2"/><circle cx="430.1" cy="249.4" r="2"/><circle cx="424.6" cy="202" r="2"/><circle cx="424" cy="209" r="2"/><circle cx="424" cy="212" r="2"/><circle cx="421" cy="217" r="2"/><circle cx="429" cy="219" r="2"/><circle cx="429" cy="225" r="2"/><circle cx="429" cy="228" r="2"/><circle cx="429" cy="239" r="2"/></g><g fill="#fff" fill-opacity="0.95"><circle cx="427.9" cy="249.3" r="0.91"/><path d="M423.4 229.3L423.9 234.4" stroke="#fff" stroke-width="0.55" stroke-opacity="0.75" fill="none" stroke-linecap="round"/></g>
<g fill="#4d4d4d" stroke="#3b3b3b" stroke-width="0.5"><path stroke="none" d="M432.7 334.2 L432.7 262 L433.3 247.2 L434.6 235 L435.9 230.7 L437.2 231.1 L438.5 230.3 L439.8 224.5 L441.1 220.1 L442.4 216.4 L443.7 218.6 L445 222.4 L446.3 244.3 L446.9 262 L446.9 334.2 L445.7 335.4 L433.9 335.4Z"/><circle cx="434.6" cy="248.6" r="2"/><circle cx="434.6" cy="236.5" r="2"/><circle cx="435.9" cy="232.1" r="2"/><circle cx="436.4" cy="230.2" r="2"/><circle cx="437.2" cy="232.6" r="2"/><circle cx="438.5" cy="231.8" r="2"/><circle cx="439.8" cy="225.9" r="2"/><circle cx="441.1" cy="221.6" r="2"/><circle cx="440.8" cy="218.9" r="2"/><circle cx="442.4" cy="217.8" r="2"/><circle cx="443.7" cy="220" r="2"/><circle cx="445" cy="223.8" r="2"/><circle cx="445" cy="245.7" r="2"/><circle cx="442" cy="214" r="2"/><circle cx="441.5" cy="216.9" r="2"/><circle cx="441.4" cy="219.6" r="2"/><circle cx="441.5" cy="222.6" r="2"/><circle cx="441.6" cy="225.3" r="2"/><circle cx="442.2" cy="228.3" r="2"/><circle cx="441.9" cy="231.1" r="2"/><circle cx="442.2" cy="233.5" r="2"/><circle cx="441.6" cy="236" r="2"/><circle cx="443.8" cy="214" r="2"/><circle cx="443.4" cy="216.9" r="2"/><circle cx="444.1" cy="219.9" r="2"/><circle cx="443.7" cy="222.3" r="2"/><circle cx="443.4" cy="225" r="2"/><circle cx="443.4" cy="227.8" r="2"/><circle cx="443.7" cy="230.6" r="2"/><circle cx="444.1" cy="233.7" r="2"/><circle cx="443.5" cy="236.8" r="2"/><circle cx="443.4" cy="126" r="2"/><circle cx="443.4" cy="136.6" r="2"/><circle cx="443.4" cy="144.4" r="2"/><circle cx="443.4" cy="149.4" r="2"/><circle cx="443.4" cy="153" r="2"/><circle cx="443.4" cy="173" r="2"/><circle cx="443.4" cy="176" r="2"/><circle cx="443.4" cy="179" r="2"/><circle cx="443.4" cy="184" r="2"/><circle cx="443.4" cy="188" r="2"/><circle cx="443.4" cy="189.6" r="2"/><circle cx="438.4" cy="202" r="2"/><circle cx="441" cy="209.4" r="2"/><circle cx="436" cy="225.6" r="2"/></g><g fill="#fff" fill-opacity="0.95"><circle cx="437.7" cy="241.8" r="0.65"/><path d="M437.1 229.7L438.6 237.5M442.7 212.5L442.4 219" stroke="#fff" stroke-width="0.55" stroke-opacity="0.75" fill="none" stroke-linecap="round"/></g>
<g fill="#999999" stroke="#868686" stroke-width="0.5"><path stroke="none" d="M447.8 334.2 L447.8 262 L448.4 242.1 L449.7 230 L451 227.9 L452.3 230.3 L453.6 230.5 L454.9 233.7 L456.2 229.6 L457.5 226.7 L458.8 226 L460.1 230.8 L461.2 262 L461.2 334.2 L460 335.4 L449 335.4Z"/><circle cx="449.7" cy="243.6" r="2"/><circle cx="449.7" cy="231.5" r="2"/><circle cx="451" cy="229.3" r="2"/><circle cx="452.3" cy="231.8" r="2"/><circle cx="453.6" cy="232" r="2"/><circle cx="454.9" cy="235.1" r="2"/><circle cx="456.2" cy="231.1" r="2"/><circle cx="455.9" cy="227.2" r="2"/><circle cx="457.5" cy="228.1" r="2"/><circle cx="457.1" cy="223.2" r="2"/><circle cx="458.8" cy="227.4" r="2"/><circle cx="459.3" cy="232.3" r="2"/><circle cx="458.4" cy="197" r="2"/><circle cx="458" cy="212.6" r="2"/><circle cx="458" cy="216" r="2"/><circle cx="458.4" cy="225.6" r="2"/></g><g fill="#fff" fill-opacity="0.95"><circle cx="453.9" cy="246.2" r="0.46"/><circle cx="455.2" cy="238.1" r="0.52"/><circle cx="457.4" cy="233.7" r="0.92"/><path d="M452.7 228.4L453.4 236.4" stroke="#fff" stroke-width="0.55" stroke-opacity="0.75" fill="none" stroke-linecap="round"/></g>
<g fill="#4d4d4d" stroke="#3b3b3b" stroke-width="0.5"><path stroke="none" d="M462.2 334.2 L462.2 262 L462.8 248.7 L464.1 241.9 L465.4 237.7 L466.7 238.2 L468 232.9 L469.3 229.5 L470.6 226.8 L471.9 225.9 L473.2 228 L474.5 235 L475.5 262 L475.5 334.2 L474.3 335.4 L463.4 335.4Z"/><circle cx="464.1" cy="250.1" r="2"/><circle cx="464.1" cy="243.4" r="2"/><circle cx="465.4" cy="239.2" r="2"/><circle cx="465.2" cy="232.6" r="2"/><circle cx="465.5" cy="235" r="2"/><circle cx="466.7" cy="239.7" r="2"/><circle cx="468" cy="234.3" r="2"/><circle cx="469.3" cy="230.9" r="2"/><circle cx="470.6" cy="228.2" r="2"/><circle cx="470.1" cy="222.9" r="2"/><circle cx="470.6" cy="225.3" r="2"/><circle cx="471.9" cy="227.4" r="2"/><circle cx="473.2" cy="229.5" r="2"/><circle cx="473.6" cy="236.4" r="2"/><circle cx="465.4" cy="212" r="2"/><circle cx="473.6" cy="213.6" r="2"/><circle cx="471" cy="220" r="2"/><circle cx="473" cy="225" r="2"/><circle cx="466" cy="234" r="2"/></g><g fill="#fff" fill-opacity="0.95"><circle cx="471.8" cy="231.1" r="0.58"/><path d="M468.5 227.5L467.9 233.5" stroke="#fff" stroke-width="0.55" stroke-opacity="0.75" fill="none" stroke-linecap="round"/></g>
<g fill="#999999" stroke="#868686" stroke-width="0.5"><path stroke="none" d="M476.7 334.2 L476.7 262 L477.3 247.1 L478.6 235.1 L479.9 230.1 L481.2 227.4 L482.5 234.4 L483.8 243.7 L485.1 250.1 L486.4 254.9 L487.5 272 L487.5 334.2 L486.3 335.4 L477.9 335.4Z"/><circle cx="478.6" cy="248.6" r="2"/><circle cx="478.6" cy="236.5" r="2"/><circle cx="479.9" cy="231.6" r="2"/><circle cx="481.2" cy="228.9" r="2"/><circle cx="482.5" cy="235.9" r="2"/><circle cx="483.8" cy="245.1" r="2"/><circle cx="485.1" cy="251.6" r="2"/><circle cx="485.6" cy="256.3" r="2"/><circle cx="480.6" cy="199.4" r="2"/><circle cx="480.6" cy="223" r="2"/></g><g fill="#fff" fill-opacity="0.95"><circle cx="484" cy="245.6" r="0.75"/><path d="" stroke="#fff" stroke-width="0.55" stroke-opacity="0.75" fill="none" stroke-linecap="round"/></g>
<g fill="#4d4d4d" stroke="#3b3b3b" stroke-width="0.5"><path stroke="none" d="M488.1 334.2 L488.1 266 L488.7 244.4 L490 233.4 L491.3 227.4 L492.6 225.4 L493.9 228.5 L495.2 235.1 L496.8 270 L496.8 334.2 L495.6 335.4 L489.3 335.4Z"/><circle cx="490" cy="245.9" r="2"/><circle cx="490" cy="234.8" r="2"/><circle cx="491.3" cy="228.9" r="2"/><circle cx="492.6" cy="226.9" r="2"/><circle cx="493.9" cy="230" r="2"/><circle cx="493.9" cy="228.6" r="2"/><circle cx="494.9" cy="236.5" r="2"/><circle cx="491" cy="199.4" r="2"/><circle cx="492" cy="211.6" r="2"/></g><g fill="#fff" fill-opacity="0.95"><circle cx="493.7" cy="240" r="0.96"/><path d="M492.7 224.2L492.3 230.5" stroke="#fff" stroke-width="0.55" stroke-opacity="0.75" fill="none" stroke-linecap="round"/></g>
<g fill="#999999" stroke="#868686" stroke-width="0.5"><path stroke="none" d="M497.8 334.2 L497.8 262 L498.4 246.3 L499.7 236.5 L501 231.6 L502.3 230.9 L503.6 230.2 L504.9 234.1 L506.2 236 L507.5 239.7 L508.8 243.7 L510.1 242.6 L511.4 237.8 L512.7 233.6 L514 232.5 L515.3 231.7 L516.6 229.8 L517.9 232.2 L519.2 235.3 L520.5 243.1 L522 262 L522 334.2 L520.8 335.4 L499 335.4Z"/><circle cx="499.7" cy="247.7" r="2"/><circle cx="499.7" cy="238" r="2"/><circle cx="501" cy="233" r="2"/><circle cx="501.1" cy="231.8" r="2"/><circle cx="502.3" cy="232.3" r="2"/><circle cx="503.6" cy="231.6" r="2"/><circle cx="504.9" cy="235.6" r="2"/><circle cx="505" cy="230.5" r="2"/><circle cx="506.2" cy="237.5" r="2"/><circle cx="507.5" cy="241.1" r="2"/><circle cx="508.8" cy="245.2" r="2"/><circle cx="510.1" cy="244" r="2"/><circle cx="511.4" cy="239.3" r="2"/><circle cx="512.7" cy="235.1" r="2"/><circle cx="514" cy="233.9" r="2"/><circle cx="515.3" cy="233.1" r="2"/><circle cx="516.6" cy="231.3" r="2"/><circle cx="517.9" cy="233.6" r="2"/><circle cx="517.6" cy="231.7" r="2"/><circle cx="519.2" cy="236.8" r="2"/><circle cx="520.1" cy="244.5" r="2"/><circle cx="503" cy="154.4" r="2"/><circle cx="503" cy="157.3" r="2"/><circle cx="503.5" cy="196" r="2"/><circle cx="502.7" cy="198.9" r="2"/><circle cx="503.5" cy="201.4" r="2"/><circle cx="503.3" cy="204" r="2"/><circle cx="504.5" cy="196" r="2"/><circle cx="504.9" cy="198.7" r="2"/><circle cx="504.6" cy="201.7" r="2"/><circle cx="503" cy="169" r="2"/><circle cx="503" cy="172.4" r="2"/><circle cx="503" cy="176" r="2"/><circle cx="503" cy="183" r="2"/><circle cx="503" cy="189.4" r="2"/><circle cx="511" cy="191.4" r="2"/><circle cx="507.6" cy="196.4" r="2"/><circle cx="509.6" cy="198" r="2"/><circle cx="507.6" cy="203" r="2"/><circle cx="510.4" cy="203.6" r="2"/><circle cx="512.6" cy="209.4" r="2"/><circle cx="502" cy="208" r="2"/><circle cx="502" cy="212" r="2"/><circle cx="504" cy="214" r="2"/><circle cx="507" cy="218" r="2"/><circle cx="502" cy="220" r="2"/><circle cx="511" cy="223" r="2"/></g><g fill="#fff" fill-opacity="0.95"><circle cx="509.9" cy="244" r="0.83"/><circle cx="511.8" cy="250.2" r="0.50"/><circle cx="517.9" cy="236" r="0.59"/><path d="M501.3 227.9L502.7 233.2M507.3 236.8L507.8 246M513 231.1L511.8 240.1" stroke="#fff" stroke-width="0.55" stroke-opacity="0.75" fill="none" stroke-linecap="round"/></g>
<g fill="#4d4d4d" stroke="#3b3b3b" stroke-width="0.5"><path stroke="none" d="M522.8 334.2 L522.8 270 L523.4 256.1 L524.7 246.8 L526 247.7 L527.3 245.8 L528.6 245.5 L529.9 241.5 L531.2 238.9 L532.5 240.8 L533.8 240.3 L535.1 231.3 L536.4 219.4 L537.7 217.1 L539 217.2 L540.3 216.1 L541.6 217.5 L542.9 218.4 L544.2 218.8 L545.5 234 L546.2 270 L546.2 334.2 L545 335.4 L524 335.4Z"/><circle cx="524.7" cy="257.5" r="2"/><circle cx="524.7" cy="248.3" r="2"/><circle cx="526" cy="249.1" r="2"/><circle cx="527.3" cy="247.2" r="2"/><circle cx="528.6" cy="247" r="2"/><circle cx="529.9" cy="243" r="2"/><circle cx="531.2" cy="240.3" r="2"/><circle cx="532.5" cy="242.2" r="2"/><circle cx="533.8" cy="241.7" r="2"/><circle cx="533.9" cy="237.5" r="2"/><circle cx="535.1" cy="232.8" r="2"/><circle cx="536.4" cy="220.8" r="2"/><circle cx="536.8" cy="219.6" r="2"/><circle cx="537.7" cy="218.6" r="2"/><circle cx="539" cy="218.6" r="2"/><circle cx="540.3" cy="217.5" r="2"/><circle cx="540.3" cy="215.2" r="2"/><circle cx="541.6" cy="218.9" r="2"/><circle cx="541.2" cy="211.8" r="2"/><circle cx="541.3" cy="214.2" r="2"/><circle cx="542.9" cy="219.8" r="2"/><circle cx="542.6" cy="215" r="2"/><circle cx="544.2" cy="220.2" r="2"/><circle cx="544.3" cy="235.4" r="2"/><circle cx="526.6" cy="209.4" r="2"/><circle cx="540.4" cy="172.6" r="2"/><circle cx="538.6" cy="180.6" r="2"/><circle cx="538" cy="188.6" r="2"/><circle cx="538.6" cy="193" r="2"/><circle cx="540.4" cy="195" r="2"/><circle cx="538" cy="199.4" r="2"/><circle cx="540.4" cy="201" r="2"/><circle cx="541.6" cy="205.6" r="2"/><circle cx="543.6" cy="210.6" r="2"/><circle cx="542" cy="214" r="2"/><circle cx="532.6" cy="223" r="2"/><circle cx="532.6" cy="226" r="2"/><circle cx="528" cy="230" r="2"/><circle cx="532" cy="236" r="2"/></g><g fill="#fff" fill-opacity="0.95"><circle cx="527.3" cy="249.3" r="0.64"/><circle cx="538" cy="225.8" r="0.77"/><circle cx="539.3" cy="233.1" r="0.67"/><path d="M527.3 242.9L527.4 251.3M533 235.6L532.2 243.8M540 213.4L541.4 219.7" stroke="#fff" stroke-width="0.55" stroke-opacity="0.75" fill="none" stroke-linecap="round"/></g>
<g fill="#999999" stroke="#868686" stroke-width="0.5"><path stroke="none" d="M547 334.2 L547 266 L547.6 240.7 L548.9 221.1 L550.2 212 L551.5 210.6 L552.8 213.1 L554.1 214.8 L555.4 222.1 L556.7 234.8 L558.2 266 L558.2 334.2 L557 335.4 L548.2 335.4Z"/><circle cx="548.9" cy="242.1" r="2"/><circle cx="548.9" cy="222.5" r="2"/><circle cx="550.2" cy="213.4" r="2"/><circle cx="551.5" cy="212" r="2"/><circle cx="551.3" cy="209.4" r="2"/><circle cx="552.8" cy="214.5" r="2"/><circle cx="554.1" cy="216.3" r="2"/><circle cx="555.4" cy="223.5" r="2"/><circle cx="556.3" cy="236.3" r="2"/><circle cx="554.4" cy="184" r="2"/><circle cx="553.6" cy="196" r="2"/><circle cx="553.6" cy="202" r="2"/><circle cx="553.6" cy="205" r="2"/></g><g fill="#fff" fill-opacity="0.95"><circle cx="552.5" cy="226.6" r="0.96"/><path d="M551.8 206.6L553.2 212.1" stroke="#fff" stroke-width="0.55" stroke-opacity="0.75" fill="none" stroke-linecap="round"/></g>
<g fill="#4d4d4d" stroke="#3b3b3b" stroke-width="0.5"><path stroke="none" d="M559.2 334.2 L559.2 266 L559.8 243.3 L561.1 227.6 L562.4 225.1 L563.7 221.4 L565 226.3 L566.3 231.1 L567.6 234.5 L568.9 240 L570.2 246 L571.5 258.2 L572 270 L572 334.2 L570.8 335.4 L560.4 335.4Z"/><circle cx="561.1" cy="244.7" r="2"/><circle cx="561.1" cy="229.1" r="2"/><circle cx="562.4" cy="226.5" r="2"/><circle cx="563.7" cy="222.8" r="2"/><circle cx="563.8" cy="221.6" r="2"/><circle cx="565" cy="227.8" r="2"/><circle cx="566.3" cy="232.6" r="2"/><circle cx="566.9" cy="222.6" r="2"/><circle cx="566.5" cy="225" r="2"/><circle cx="567.6" cy="235.9" r="2"/><circle cx="567.6" cy="231.7" r="2"/><circle cx="568.9" cy="241.5" r="2"/><circle cx="570.1" cy="247.4" r="2"/><circle cx="570.1" cy="259.7" r="2"/><circle cx="564.2" cy="179" r="2"/><circle cx="564.2" cy="187.6" r="2"/><circle cx="563" cy="190" r="2"/><circle cx="564.2" cy="193" r="2"/><circle cx="564.2" cy="196" r="2"/><circle cx="563" cy="199" r="2"/><circle cx="563" cy="201" r="2"/><circle cx="563" cy="207" r="2"/><circle cx="563.4" cy="211" r="2"/><circle cx="564.2" cy="214" r="2"/><circle cx="564.2" cy="217" r="2"/><circle cx="568" cy="226" r="2"/></g><g fill="#fff" fill-opacity="0.95"><circle cx="563.5" cy="235.4" r="0.73"/><circle cx="567.3" cy="239.9" r="0.46"/><circle cx="568.7" cy="243" r="0.79"/><path d="M563.1 221.2L564.3 227" stroke="#fff" stroke-width="0.55" stroke-opacity="0.75" fill="none" stroke-linecap="round"/></g>
<g fill="#999999" stroke="#868686" stroke-width="0.5"><path stroke="none" d="M573.3 334.2 L573.3 270 L573.9 255.5 L575.2 243.9 L576.5 236.5 L577.8 234.8 L579.1 232.6 L580.4 230.8 L581.7 231.4 L583 231.9 L584.3 236.2 L585.6 246.8 L586.2 266 L586.2 334.2 L585 335.4 L574.5 335.4Z"/><circle cx="575.2" cy="257" r="2"/><circle cx="575.2" cy="245.4" r="2"/><circle cx="576.5" cy="237.9" r="2"/><circle cx="576.2" cy="230.1" r="2"/><circle cx="576.7" cy="232.5" r="2"/><circle cx="577.8" cy="236.2" r="2"/><circle cx="579.1" cy="234" r="2"/><circle cx="580.4" cy="232.3" r="2"/><circle cx="581.7" cy="232.9" r="2"/><circle cx="581.4" cy="228.4" r="2"/><circle cx="583" cy="233.3" r="2"/><circle cx="584.3" cy="237.7" r="2"/><circle cx="584.3" cy="248.2" r="2"/><circle cx="583.2" cy="198" r="2"/><circle cx="583.1" cy="200.5" r="2"/><circle cx="583.7" cy="203.5" r="2"/><circle cx="583.9" cy="206.6" r="2"/><circle cx="583.7" cy="209.5" r="2"/><circle cx="583.7" cy="212.4" r="2"/><circle cx="583" cy="215.3" r="2"/><circle cx="583.2" cy="218.3" r="2"/><circle cx="583.9" cy="220.9" r="2"/><circle cx="583.4" cy="223.3" r="2"/><circle cx="583.7" cy="225.9" r="2"/><circle cx="583.9" cy="228.8" r="2"/><circle cx="583.6" cy="231.8" r="2"/><circle cx="577.4" cy="220.6" r="2"/><circle cx="578" cy="225" r="2"/><circle cx="581" cy="223" r="2"/></g><g fill="#fff" fill-opacity="0.95"><circle cx="579.1" cy="237.5" r="0.80"/><path d="M577.8 231.2L579.2 235.8" stroke="#fff" stroke-width="0.55" stroke-opacity="0.75" fill="none" stroke-linecap="round"/></g>
<g fill="#4d4d4d" stroke="#3b3b3b" stroke-width="0.5"><path stroke="none" d="M587.1 334.2 L587.1 270 L587.7 251.7 L589 244.5 L590.3 235.9 L591.6 228.6 L592.9 230.2 L594.2 232.8 L595.5 234.1 L596.8 237.5 L598.1 241.9 L599.4 248.5 L600.3 270 L600.3 334.2 L599.1 335.4 L588.3 335.4Z"/><circle cx="589" cy="253.2" r="2"/><circle cx="589" cy="246" r="2"/><circle cx="590.3" cy="237.3" r="2"/><circle cx="591.6" cy="230.1" r="2"/><circle cx="592.9" cy="231.7" r="2"/><circle cx="593.2" cy="230.7" r="2"/><circle cx="594.2" cy="234.2" r="2"/><circle cx="595.5" cy="235.6" r="2"/><circle cx="595.7" cy="232.5" r="2"/><circle cx="596.8" cy="238.9" r="2"/><circle cx="598.1" cy="243.3" r="2"/><circle cx="598.4" cy="249.9" r="2"/><circle cx="591" cy="210" r="2"/><circle cx="591" cy="219.6" r="2"/><circle cx="592" cy="225" r="2"/><circle cx="597" cy="233" r="2"/></g><g fill="#fff" fill-opacity="0.95"><path d="M593 227.5L594.1 231.7" stroke="#fff" stroke-width="0.55" stroke-opacity="0.75" fill="none" stroke-linecap="round"/></g>
<g fill="#999999" stroke="#868686" stroke-width="0.5"><path stroke="none" d="M601.6 334.2 L601.6 270 L602.2 247.5 L603.5 234.4 L604.8 228.1 L606.1 228.3 L607.4 228 L608.7 233.1 L610 240.9 L611.3 270 L611.3 334.2 L610.1 335.4 L602.8 335.4Z"/><circle cx="603.5" cy="249" r="2"/><circle cx="603.5" cy="235.9" r="2"/><circle cx="604.8" cy="229.6" r="2"/><circle cx="606.1" cy="229.7" r="2"/><circle cx="606.6" cy="227.5" r="2"/><circle cx="607.4" cy="229.5" r="2"/><circle cx="608.7" cy="234.5" r="2"/><circle cx="609.4" cy="242.4" r="2"/><circle cx="606.4" cy="139" r="2"/><circle cx="606.4" cy="175" r="2"/><circle cx="606.4" cy="180" r="2"/><circle cx="606.4" cy="182.4" r="2"/><circle cx="606.4" cy="197.4" r="2"/><circle cx="606.4" cy="202.6" r="2"/><circle cx="608" cy="208.6" r="2"/><circle cx="607" cy="212" r="2"/><circle cx="607" cy="215" r="2"/><circle cx="608" cy="223" r="2"/></g><g fill="#fff" fill-opacity="0.95"><path d="M606.6 225.7L605.3 233.9" stroke="#fff" stroke-width="0.55" stroke-opacity="0.75" fill="none" stroke-linecap="round"/></g>
<g fill="#4d4d4d" stroke="#3b3b3b" stroke-width="0.5"><path stroke="none" d="M611.9 334.2 L611.9 270 L612.5 253.1 L613.8 242.1 L615.1 236.8 L616.4 235.3 L617.7 236.4 L619 238.6 L620.3 241.4 L621.6 258.2 L622.2 270 L622.2 334.2 L621 335.4 L613.1 335.4Z"/><circle cx="613.8" cy="254.6" r="2"/><circle cx="613.8" cy="243.6" r="2"/><circle cx="615.1" cy="238.3" r="2"/><circle cx="615.3" cy="236.8" r="2"/><circle cx="616.4" cy="236.7" r="2"/><circle cx="617.7" cy="237.9" r="2"/><circle cx="619" cy="240" r="2"/><circle cx="618.9" cy="239.9" r="2"/><circle cx="620.3" cy="242.8" r="2"/><circle cx="620.3" cy="259.6" r="2"/><circle cx="616.4" cy="214" r="2"/><circle cx="619" cy="221.6" r="2"/><circle cx="614.6" cy="224" r="2"/><circle cx="619.6" cy="228" r="2"/><circle cx="614.6" cy="230" r="2"/><circle cx="619" cy="231" r="2"/></g><g fill="#fff" fill-opacity="0.95"><circle cx="615.1" cy="252.6" r="0.48"/><path d="M616.1 233.5L617.6 239.2" stroke="#fff" stroke-width="0.55" stroke-opacity="0.75" fill="none" stroke-linecap="round"/></g>
<g fill="#999999" stroke="#868686" stroke-width="0.5"><path stroke="none" d="M622.8 334.2 L622.8 270 L623.4 253.2 L624.7 240.5 L626 238.5 L627.3 234.5 L628.6 232.4 L629.9 233.1 L631.2 236.1 L632.5 236.5 L633.8 237.4 L635.1 235.2 L636.4 235.3 L637.7 241.8 L639.2 270 L639.2 334.2 L638 335.4 L624 335.4Z"/><circle cx="624.7" cy="254.7" r="2"/><circle cx="624.7" cy="241.9" r="2"/><circle cx="626" cy="239.9" r="2"/><circle cx="627.3" cy="236" r="2"/><circle cx="628.6" cy="233.8" r="2"/><circle cx="629.9" cy="234.5" r="2"/><circle cx="631.2" cy="237.6" r="2"/><circle cx="632.5" cy="238" r="2"/><circle cx="633.8" cy="238.8" r="2"/><circle cx="635.1" cy="236.7" r="2"/><circle cx="636.4" cy="236.8" r="2"/><circle cx="636.7" cy="235" r="2"/><circle cx="637.3" cy="243.3" r="2"/><circle cx="629.7" cy="219" r="2"/><circle cx="629.7" cy="221.5" r="2"/><circle cx="629.3" cy="224" r="2"/><circle cx="629.6" cy="227" r="2"/><circle cx="629.3" cy="229.6" r="2"/><circle cx="629.5" cy="232.5" r="2"/><circle cx="636.1" cy="221" r="2"/><circle cx="636.2" cy="223.6" r="2"/><circle cx="636" cy="226.4" r="2"/><circle cx="635.6" cy="229.5" r="2"/><circle cx="635.8" cy="232.4" r="2"/><circle cx="628" cy="226" r="2"/></g><g fill="#fff" fill-opacity="0.95"><path d="M628.1 230.7L628.3 236.2" stroke="#fff" stroke-width="0.55" stroke-opacity="0.75" fill="none" stroke-linecap="round"/></g>
<g fill="#4d4d4d" stroke="#3b3b3b" stroke-width="0.5"><path stroke="none" d="M639.9 334.2 L639.9 270 L640.5 226.6 L641.8 226 L643.1 224.6 L644.4 223.3 L645.7 220.4 L647 225.4 L648.3 226.7 L649.6 230.4 L651.2 258 L651.2 334.2 L650 335.4 L641.1 335.4Z"/><circle cx="641.8" cy="228" r="2"/><circle cx="641.8" cy="227.4" r="2"/><circle cx="643.1" cy="226" r="2"/><circle cx="644.4" cy="224.8" r="2"/><circle cx="645.7" cy="221.8" r="2"/><circle cx="647" cy="226.8" r="2"/><circle cx="647" cy="223.3" r="2"/><circle cx="648.3" cy="228.2" r="2"/><circle cx="648.7" cy="226.7" r="2"/><circle cx="649.3" cy="231.8" r="2"/><circle cx="642.4" cy="165.6" r="2"/><circle cx="642.4" cy="180.4" r="2"/><circle cx="642.4" cy="185.4" r="2"/><circle cx="642.4" cy="193.6" r="2"/><circle cx="645" cy="209.4" r="2"/><circle cx="645.6" cy="214" r="2"/><circle cx="645" cy="217" r="2"/><circle cx="645" cy="220" r="2"/></g><g fill="#fff" fill-opacity="0.95"><path d="M642.6 222.5L643.4 230.9" stroke="#fff" stroke-width="0.55" stroke-opacity="0.75" fill="none" stroke-linecap="round"/></g>
<g fill="#999999" stroke="#868686" stroke-width="0.5"><path stroke="none" d="M652.3 334.2 L652.3 270 L652.9 246.5 L654.2 237.5 L655.5 235.3 L656.8 235.3 L658.1 232.4 L659.4 239.4 L660.7 243.7 L662 258 L662 334.2 L660.8 335.4 L653.5 335.4Z"/><circle cx="654.2" cy="248" r="2"/><circle cx="654.2" cy="239" r="2"/><circle cx="655.5" cy="236.8" r="2"/><circle cx="656.8" cy="236.7" r="2"/><circle cx="656.4" cy="230.9" r="2"/><circle cx="658.1" cy="233.8" r="2"/><circle cx="659.4" cy="240.9" r="2"/><circle cx="659.6" cy="236.9" r="2"/><circle cx="660.1" cy="245.2" r="2"/><circle cx="655.4" cy="209.4" r="2"/><circle cx="655" cy="213" r="2"/><circle cx="655.4" cy="222" r="2"/><circle cx="659.4" cy="225.4" r="2"/><circle cx="656" cy="230" r="2"/></g><g fill="#fff" fill-opacity="0.95"><circle cx="655.5" cy="237.8" r="0.90"/><path d="M655.9 230.1L656.5 235.4" stroke="#fff" stroke-width="0.55" stroke-opacity="0.75" fill="none" stroke-linecap="round"/></g>
<line x1="59.4" y1="144.5" x2="660.7" y2="144.5" stroke="#3a3a3a" stroke-width="1"/>
<line x1="59.4" y1="180.4" x2="660.7" y2="180.4" stroke="#c4c4c4" stroke-width="0.8" stroke-dasharray="2.1 1.85"/>
<g stroke="#3a3a3a" stroke-width="0.9" fill="none">
<path d="M59.6 112.6V333.2"/>
<path d="M54.4 333.2H59.6"/>
<path d="M54.4 278.1H59.6"/>
<path d="M54.4 222.9H59.6"/>
<path d="M54.4 167.8H59.6"/>
<path d="M54.4 112.6H59.6"/>
<path d="M59.5 347.3V342.1H660.3"/>
<path d="M76.2 342.1V347.3"/>
<path d="M116.4 342.1V347.3"/>
<path d="M163.4 342.1V347.3"/>
<path d="M195.9 342.1V347.3"/>
<path d="M221 342.1V347.3"/>
<path d="M246 342.1V347.3"/>
<path d="M272.4 342.1V347.3"/>
<path d="M299.9 342.1V347.3"/>
<path d="M321.4 342.1V347.3"/>
<path d="M341.4 342.1V347.3"/>
<path d="M363.8 342.1V347.3"/>
<path d="M387.8 342.1V347.3"/>
<path d="M409.6 342.1V347.3"/>
<path d="M425.4 342.1V347.3"/>
<path d="M439.8 342.1V347.3"/>
<path d="M454.5 342.1V347.3"/>
<path d="M468.9 342.1V347.3"/>
<path d="M482.1 342.1V347.3"/>
<path d="M492.4 342.1V347.3"/>
<path d="M509.9 342.1V347.3"/>
<path d="M534.5 342.1V347.3"/>
<path d="M552.6 342.1V347.3"/>
<path d="M565.6 342.1V347.3"/>
<path d="M579.8 342.1V347.3"/>
<path d="M593.7 342.1V347.3"/>
<path d="M606.5 342.1V347.3"/>
<path d="M617 342.1V347.3"/>
<path d="M631 342.1V347.3"/>
<path d="M645.5 342.1V347.3"/>
<path d="M657.1 342.1V347.3"/>
</g>
<g font-family="'Liberation Sans', Arial, sans-serif" font-weight="bold" font-size="8.4px" fill="#1a1a1a" text-anchor="middle">
<text x="47.3" y="336.5">0</text>
<text x="47.3" y="281.4">2</text>
<text x="47.3" y="226.2">4</text>
<text x="47.3" y="171.1">6</text>
<text x="47.3" y="115.9">8</text>
<text x="59.5" y="360.1">Chr</text>
<text x="116.4" y="360.1">2</text>
<text x="163.4" y="360.1">3</text>
<text x="195.9" y="360.1">4</text>
<text x="221" y="360.1">5</text>
<text x="246" y="360.1">6</text>
<text x="272.4" y="360.1">7</text>
<text x="299.9" y="360.1">8</text>
<text x="321.4" y="360.1">9</text>
<text x="341.4" y="360.1">10</text>
<text x="363.8" y="360.1">11</text>
<text x="387.8" y="360.1">12</text>
<text x="409.6" y="360.1">13</text>
<text x="439.8" y="360.1">15</text>
<text x="468.9" y="360.1">17</text>
<text x="492.4" y="360.1">19</text>
<text x="509.9" y="360.1">20</text>
<text x="534.5" y="360.1">21</text>
<text x="552.6" y="360.1">22</text>
<text x="579.8" y="360.1">24</text>
<text x="606.5" y="360.1">26</text>
<text x="631" y="360.1">28</text>
<text x="657.1" y="360.1">30</text>
</g>
<text transform="translate(24.6 222.7) rotate(-90)" text-anchor="middle" font-family="'Liberation Sans', Arial, sans-serif" font-size="13.6px" fill="#333">−log<tspan font-size="9.4px" dy="2.3">10</tspan><tspan dy="-2.3">(</tspan><tspan font-style="italic">p</tspan>)</text>
</g>
<g id="man-b">
<line x1="62.8" y1="503.9" x2="660.6" y2="503.9" stroke="#dcdcdc" stroke-width="1.7" stroke-dasharray="2 1.95"/>
<g fill="#4d4d4d" stroke="#3b3b3b" stroke-width="0.5"><path stroke="none" d="M64.2 678.3 L64.2 610 L64.8 582.7 L66.1 574.2 L67.4 571.3 L68.7 558.2 L70 572.1 L71.3 573.3 L72.6 569.1 L73.9 562.3 L75.2 560.7 L76.5 558.4 L77.8 556.5 L79.1 556.5 L80.4 558.6 L81.7 563.1 L83 564.3 L84.3 564.9 L85.6 563.3 L86.9 562.2 L88.2 565.1 L89.5 572.4 L90.8 584.6 L92.1 606 L92.1 678.3 L90.9 679.5 L65.4 679.5Z"/><circle cx="66.1" cy="584.2" r="2"/><circle cx="66.1" cy="575.7" r="2"/><circle cx="67.4" cy="572.8" r="2"/><circle cx="68.7" cy="559.7" r="2"/><circle cx="70" cy="573.5" r="2"/><circle cx="70.1" cy="567.7" r="2"/><circle cx="71.3" cy="574.8" r="2"/><circle cx="72.6" cy="570.5" r="2"/><circle cx="73.9" cy="563.8" r="2"/><circle cx="75.2" cy="562.2" r="2"/><circle cx="75" cy="561" r="2"/><circle cx="76.5" cy="559.8" r="2"/><circle cx="77.8" cy="557.9" r="2"/><circle cx="79.1" cy="557.9" r="2"/><circle cx="79.3" cy="552.9" r="2"/><circle cx="80.4" cy="560.1" r="2"/><circle cx="81.7" cy="564.6" r="2"/><circle cx="83" cy="565.7" r="2"/><circle cx="84.3" cy="566.4" r="2"/><circle cx="85.6" cy="564.8" r="2"/><circle cx="86.9" cy="563.6" r="2"/><circle cx="87.3" cy="561.6" r="2"/><circle cx="88.2" cy="566.5" r="2"/><circle cx="89.5" cy="573.8" r="2"/><circle cx="90.1" cy="586" r="2"/><circle cx="69" cy="555" r="2"/><circle cx="68.6" cy="557.6" r="2"/><circle cx="69.1" cy="560.3" r="2"/><circle cx="68.9" cy="563" r="2"/><circle cx="68.4" cy="566" r="2"/><circle cx="68.6" cy="568.9" r="2"/><circle cx="81.6" cy="550" r="2"/><circle cx="78" cy="553" r="2"/><circle cx="86" cy="559.6" r="2"/><circle cx="88" cy="562" r="2"/></g><g fill="#fff" fill-opacity="0.95"><circle cx="76.1" cy="561.3" r="0.77"/><circle cx="82.2" cy="563.4" r="0.46"/><circle cx="85.2" cy="567.2" r="0.96"/><path d="M71.2 570.1L72.5 575.4M76.9 554.6L77 561.7M84 558.3L83.9 565.4" stroke="#fff" stroke-width="0.55" stroke-opacity="0.75" fill="none" stroke-linecap="round"/></g>
<g fill="#999999" stroke="#868686" stroke-width="0.5"><path stroke="none" d="M92.5 678.3 L92.5 610 L93.1 583 L94.4 571.4 L95.7 566.9 L97 570.5 L98.3 568.9 L99.6 562.6 L100.9 565.1 L102.2 564.2 L103.5 562.5 L104.8 564.1 L106.1 564.1 L107.4 564.1 L108.7 563.7 L110 562.5 L111.3 564.1 L112.6 568.3 L113.9 571.2 L115.2 578.3 L116.5 580.2 L117.8 581.1 L119.1 577.3 L120.4 580.3 L121.7 574.4 L123 561.9 L124.3 565.4 L125.6 568.3 L126.9 569.6 L128.2 567.8 L129.5 564.2 L130.8 564.9 L132.1 562.1 L133.4 564.1 L134.7 563.5 L136 564.3 L137.3 566.9 L138.6 569.2 L139.9 567.8 L141.2 570.1 L142.5 575.2 L144.2 598 L144.2 678.3 L143 679.5 L93.7 679.5Z"/><circle cx="94.5" cy="584.5" r="2"/><circle cx="94.5" cy="572.9" r="2"/><circle cx="95.7" cy="568.4" r="2"/><circle cx="95.7" cy="564.6" r="2"/><circle cx="97" cy="572" r="2"/><circle cx="98.3" cy="570.4" r="2"/><circle cx="99.6" cy="564" r="2"/><circle cx="100.9" cy="566.5" r="2"/><circle cx="102.2" cy="565.6" r="2"/><circle cx="103.5" cy="563.9" r="2"/><circle cx="103.1" cy="562" r="2"/><circle cx="104.8" cy="565.6" r="2"/><circle cx="104.5" cy="560" r="2"/><circle cx="106.1" cy="565.5" r="2"/><circle cx="105.7" cy="564.4" r="2"/><circle cx="107.4" cy="565.5" r="2"/><circle cx="108.7" cy="565.2" r="2"/><circle cx="110" cy="564" r="2"/><circle cx="110" cy="560.6" r="2"/><circle cx="111.3" cy="565.6" r="2"/><circle cx="112.6" cy="569.8" r="2"/><circle cx="113.1" cy="568.3" r="2"/><circle cx="113.9" cy="572.7" r="2"/><circle cx="115.2" cy="579.7" r="2"/><circle cx="116.5" cy="581.6" r="2"/><circle cx="117.8" cy="582.5" r="2"/><circle cx="118.2" cy="578" r="2"/><circle cx="119.1" cy="578.7" r="2"/><circle cx="120.4" cy="581.8" r="2"/><circle cx="121.7" cy="575.9" r="2"/><circle cx="123" cy="563.3" r="2"/><circle cx="124.3" cy="566.8" r="2"/><circle cx="125.6" cy="569.7" r="2"/><circle cx="126.2" cy="567.8" r="2"/><circle cx="126.9" cy="571.1" r="2"/><circle cx="127" cy="568.9" r="2"/><circle cx="128.2" cy="569.3" r="2"/><circle cx="129.5" cy="565.7" r="2"/><circle cx="129.3" cy="563" r="2"/><circle cx="130.8" cy="566.4" r="2"/><circle cx="132.1" cy="563.5" r="2"/><circle cx="132.1" cy="562.3" r="2"/><circle cx="133.4" cy="565.6" r="2"/><circle cx="134.7" cy="565" r="2"/><circle cx="136" cy="565.8" r="2"/><circle cx="137.3" cy="568.3" r="2"/><circle cx="136.8" cy="560.9" r="2"/><circle cx="137.6" cy="563.3" r="2"/><circle cx="138.6" cy="570.6" r="2"/><circle cx="139.9" cy="569.3" r="2"/><circle cx="141.2" cy="571.6" r="2"/><circle cx="142.2" cy="576.6" r="2"/><circle cx="111.5" cy="534" r="2"/><circle cx="111.6" cy="536.9" r="2"/><circle cx="111.5" cy="539.9" r="2"/><circle cx="112.3" cy="542.9" r="2"/><circle cx="112.1" cy="545.7" r="2"/><circle cx="123.1" cy="555" r="2"/><circle cx="123.3" cy="557.5" r="2"/><circle cx="123.1" cy="560.1" r="2"/><circle cx="123.4" cy="562.9" r="2"/><circle cx="123.4" cy="565.6" r="2"/><circle cx="122.8" cy="568.1" r="2"/><circle cx="135.1" cy="542" r="2"/><circle cx="134.7" cy="545" r="2"/><circle cx="135.3" cy="547.9" r="2"/><circle cx="134.6" cy="550.4" r="2"/><circle cx="135.5" cy="553.3" r="2"/><circle cx="134.9" cy="556.1" r="2"/><circle cx="135.3" cy="558.8" r="2"/><circle cx="135" cy="561.6" r="2"/><circle cx="135.5" cy="564.4" r="2"/><circle cx="96.2" cy="542" r="2"/><circle cx="96.2" cy="553" r="2"/><circle cx="96.2" cy="557" r="2"/><circle cx="98" cy="558" r="2"/><circle cx="101" cy="557" r="2"/><circle cx="104" cy="554" r="2"/><circle cx="105" cy="544" r="2"/><circle cx="105" cy="548" r="2"/><circle cx="107.6" cy="544.6" r="2"/><circle cx="111.6" cy="552" r="2"/><circle cx="110" cy="560" r="2"/><circle cx="122.8" cy="528.4" r="2"/><circle cx="129" cy="536" r="2"/><circle cx="135.4" cy="531.4" r="2"/><circle cx="134" cy="530.6" r="2"/><circle cx="129" cy="552" r="2"/><circle cx="127" cy="553" r="2"/><circle cx="139" cy="552" r="2"/><circle cx="139" cy="556" r="2"/><circle cx="141" cy="556" r="2"/><circle cx="140" cy="562" r="2"/><circle cx="129" cy="560" r="2"/></g><g fill="#fff" fill-opacity="0.95"><circle cx="98.7" cy="575.9" r="0.88"/><circle cx="103.2" cy="568.7" r="0.73"/><circle cx="109.1" cy="568.1" r="0.99"/><circle cx="120.3" cy="582.5" r="0.69"/><circle cx="123.3" cy="573" r="0.75"/><circle cx="126" cy="573" r="0.48"/><path d="M97.5 567.8L97.8 573.3M110 560.5L111.3 568.4M125.2 564.4L125.2 569.1M133.4 560.5L133.4 565.6" stroke="#fff" stroke-width="0.55" stroke-opacity="0.75" fill="none" stroke-linecap="round"/></g>
<g fill="#4d4d4d" stroke="#3b3b3b" stroke-width="0.5"><path stroke="none" d="M144.9 678.3 L144.9 610 L145.5 576.8 L146.8 553.8 L148.1 551 L149.4 558.3 L150.7 569.6 L152 570.3 L153.3 571.8 L154.6 574.4 L155.9 574.6 L157.2 578.7 L158.5 576.8 L159.8 580.5 L161.1 578 L162.4 574.4 L163.7 573.1 L165 567.9 L166.3 568.5 L167.6 572.5 L168.9 572.5 L170.2 568.4 L171.5 565.2 L172.8 562.9 L174.1 562 L175.4 557.1 L176.7 555.7 L178 553.1 L179.3 553.5 L180.6 551.4 L181.9 563.4 L183.2 574.7 L184.5 584.7 L185.6 604 L185.6 678.3 L184.4 679.5 L146.1 679.5Z"/><circle cx="146.9" cy="578.2" r="2"/><circle cx="146.9" cy="555.2" r="2"/><circle cx="148.1" cy="552.5" r="2"/><circle cx="149.4" cy="559.7" r="2"/><circle cx="149.2" cy="551.1" r="2"/><circle cx="150.7" cy="571.1" r="2"/><circle cx="150.7" cy="567.6" r="2"/><circle cx="152" cy="571.7" r="2"/><circle cx="153.3" cy="573.2" r="2"/><circle cx="154.6" cy="575.9" r="2"/><circle cx="155.9" cy="576" r="2"/><circle cx="157.2" cy="580.2" r="2"/><circle cx="158.5" cy="578.2" r="2"/><circle cx="159.8" cy="582" r="2"/><circle cx="161.1" cy="579.4" r="2"/><circle cx="162.4" cy="575.9" r="2"/><circle cx="163.7" cy="574.5" r="2"/><circle cx="165" cy="569.4" r="2"/><circle cx="166.3" cy="570" r="2"/><circle cx="167.6" cy="574" r="2"/><circle cx="168.9" cy="574" r="2"/><circle cx="170.2" cy="569.8" r="2"/><circle cx="169.8" cy="567" r="2"/><circle cx="171.5" cy="566.6" r="2"/><circle cx="171.3" cy="561.2" r="2"/><circle cx="172.8" cy="564.4" r="2"/><circle cx="174.1" cy="563.4" r="2"/><circle cx="175.4" cy="558.5" r="2"/><circle cx="176.7" cy="557.1" r="2"/><circle cx="178" cy="554.6" r="2"/><circle cx="179.3" cy="555" r="2"/><circle cx="179.8" cy="552.2" r="2"/><circle cx="180.6" cy="552.8" r="2"/><circle cx="181.9" cy="564.9" r="2"/><circle cx="183.2" cy="576.1" r="2"/><circle cx="183.6" cy="586.2" r="2"/><circle cx="147.9" cy="550" r="2"/><circle cx="148.4" cy="553.1" r="2"/><circle cx="148.4" cy="555.6" r="2"/><circle cx="147.7" cy="558.2" r="2"/><circle cx="147.8" cy="561" r="2"/><circle cx="147.5" cy="563.5" r="2"/><circle cx="147.7" cy="566.1" r="2"/><circle cx="147.5" cy="569.1" r="2"/><circle cx="154.4" cy="521" r="2"/><circle cx="148.8" cy="527.6" r="2"/><circle cx="148.8" cy="532.6" r="2"/><circle cx="159.4" cy="538" r="2"/><circle cx="154.4" cy="541.6" r="2"/><circle cx="151" cy="549.4" r="2"/><circle cx="152.6" cy="554.6" r="2"/><circle cx="158.4" cy="552" r="2"/><circle cx="158.4" cy="556" r="2"/><circle cx="158.4" cy="560" r="2"/><circle cx="159" cy="563" r="2"/><circle cx="158.4" cy="572" r="2"/><circle cx="173" cy="521.6" r="2"/><circle cx="173" cy="535" r="2"/><circle cx="180.2" cy="531.4" r="2"/><circle cx="181.4" cy="533.4" r="2"/><circle cx="178.4" cy="537.4" r="2"/><circle cx="177" cy="541" r="2"/><circle cx="168" cy="542.6" r="2"/><circle cx="168" cy="549" r="2"/><circle cx="173" cy="544" r="2"/><circle cx="173" cy="548" r="2"/><circle cx="173" cy="553" r="2"/><circle cx="177" cy="546" r="2"/><circle cx="165" cy="566" r="2"/></g><g fill="#fff" fill-opacity="0.95"><circle cx="149.5" cy="567.1" r="0.70"/><circle cx="161.9" cy="578.5" r="0.49"/><circle cx="165.1" cy="574.1" r="0.68"/><circle cx="169.2" cy="580.9" r="0.64"/><circle cx="170.1" cy="572.8" r="0.51"/><circle cx="178" cy="565.3" r="0.92"/><path d="M148.1 548.5L146.6 556.5M156.4 572.2L155 580.2M165.1 564.7L165.1 570.5M177.8 548.5L178.9 552.9" stroke="#fff" stroke-width="0.55" stroke-opacity="0.75" fill="none" stroke-linecap="round"/></g>
<g fill="#999999" stroke="#868686" stroke-width="0.5"><path stroke="none" d="M186.5 678.3 L186.5 610 L187.1 580.7 L188.4 568.4 L189.7 567.8 L191 566.2 L192.3 559.2 L193.6 548.7 L194.9 550.5 L196.2 551.7 L197.5 559.9 L198.8 558.2 L200.1 546.1 L201.4 546.4 L202.7 549.9 L204 541.4 L205.3 536.7 L206.6 538.1 L207.9 561.7 L209 598 L209 678.3 L207.8 679.5 L187.7 679.5Z"/><circle cx="188.4" cy="582.2" r="2"/><circle cx="188.4" cy="569.8" r="2"/><circle cx="189.7" cy="569.2" r="2"/><circle cx="191" cy="567.7" r="2"/><circle cx="192.3" cy="560.7" r="2"/><circle cx="193.6" cy="550.2" r="2"/><circle cx="194.9" cy="551.9" r="2"/><circle cx="196.2" cy="553.2" r="2"/><circle cx="197.5" cy="561.3" r="2"/><circle cx="198.8" cy="559.6" r="2"/><circle cx="198.2" cy="551.4" r="2"/><circle cx="200.1" cy="547.6" r="2"/><circle cx="201.4" cy="547.9" r="2"/><circle cx="200.9" cy="546.4" r="2"/><circle cx="202.7" cy="551.3" r="2"/><circle cx="204" cy="542.9" r="2"/><circle cx="203.8" cy="540.2" r="2"/><circle cx="205.3" cy="538.1" r="2"/><circle cx="204.7" cy="532.7" r="2"/><circle cx="206.6" cy="539.6" r="2"/><circle cx="207" cy="563.1" r="2"/><circle cx="194.5" cy="546" r="2"/><circle cx="194.1" cy="548.9" r="2"/><circle cx="194.7" cy="551.9" r="2"/><circle cx="194.3" cy="554.8" r="2"/><circle cx="193.9" cy="557.6" r="2"/><circle cx="194.6" cy="560.3" r="2"/><circle cx="194.8" cy="563.4" r="2"/><circle cx="199.9" cy="543" r="2"/><circle cx="200.1" cy="546" r="2"/><circle cx="199.4" cy="548.9" r="2"/><circle cx="199.1" cy="551.9" r="2"/><circle cx="199.6" cy="554.7" r="2"/><circle cx="199.7" cy="557.7" r="2"/><circle cx="199.2" cy="560.2" r="2"/><circle cx="199.9" cy="562.7" r="2"/><circle cx="199.5" cy="565.6" r="2"/><circle cx="204.5" cy="530" r="2"/><circle cx="204.4" cy="532.5" r="2"/><circle cx="204.2" cy="535.2" r="2"/><circle cx="204.1" cy="538.1" r="2"/><circle cx="204.5" cy="540.7" r="2"/><circle cx="204" cy="543.8" r="2"/><circle cx="204.1" cy="546.4" r="2"/><circle cx="204.4" cy="549" r="2"/><circle cx="204" cy="552" r="2"/><circle cx="204.3" cy="554.9" r="2"/><circle cx="204.4" cy="557.7" r="2"/><circle cx="204" cy="560.5" r="2"/><circle cx="204.3" cy="563.3" r="2"/><circle cx="206.1" cy="536" r="2"/><circle cx="206.5" cy="538.7" r="2"/><circle cx="205.5" cy="541.2" r="2"/><circle cx="206.2" cy="543.7" r="2"/><circle cx="206.3" cy="546.2" r="2"/><circle cx="205.8" cy="548.6" r="2"/><circle cx="205.5" cy="551.5" r="2"/><circle cx="206.5" cy="554.2" r="2"/><circle cx="205.9" cy="557.1" r="2"/><circle cx="206.1" cy="560.1" r="2"/><circle cx="205.8" cy="563.1" r="2"/><circle cx="206.2" cy="565.7" r="2"/><circle cx="189" cy="524.4" r="2"/><circle cx="189" cy="527" r="2"/><circle cx="189" cy="529.4" r="2"/><circle cx="190" cy="556.6" r="2"/></g><g fill="#fff" fill-opacity="0.95"><circle cx="191.1" cy="569.2" r="0.79"/><circle cx="202.4" cy="552.3" r="0.89"/><circle cx="204.2" cy="542.8" r="0.96"/><circle cx="205.7" cy="548.8" r="0.98"/><path d="M201 544.5L200.8 549.4" stroke="#fff" stroke-width="0.55" stroke-opacity="0.75" fill="none" stroke-linecap="round"/></g>
<g fill="#4d4d4d" stroke="#3b3b3b" stroke-width="0.5"><path stroke="none" d="M209.6 678.3 L209.6 610 L210.2 580.5 L211.5 572 L212.8 567.9 L214.1 560.2 L215.4 559.5 L216.7 561.8 L218 564.5 L219.3 568.4 L220.6 573.6 L221.9 580.9 L223.2 582.3 L224.5 584.1 L225.8 575.5 L227.1 572.3 L228.4 570.2 L229.7 566.9 L231 567 L232.3 569.1 L233.6 576.8 L234.9 586.2 L235.8 602 L235.8 678.3 L234.6 679.5 L210.8 679.5Z"/><circle cx="211.6" cy="582" r="2"/><circle cx="211.6" cy="573.5" r="2"/><circle cx="212.8" cy="569.3" r="2"/><circle cx="214.1" cy="561.6" r="2"/><circle cx="215.4" cy="561" r="2"/><circle cx="215.1" cy="558.8" r="2"/><circle cx="216.7" cy="563.3" r="2"/><circle cx="218" cy="565.9" r="2"/><circle cx="218.5" cy="564.1" r="2"/><circle cx="219.3" cy="569.8" r="2"/><circle cx="220.6" cy="575.1" r="2"/><circle cx="221.9" cy="582.3" r="2"/><circle cx="223.2" cy="583.7" r="2"/><circle cx="224.5" cy="585.6" r="2"/><circle cx="224.4" cy="583.9" r="2"/><circle cx="225.8" cy="577" r="2"/><circle cx="227.1" cy="573.7" r="2"/><circle cx="228.4" cy="571.7" r="2"/><circle cx="227.9" cy="569.5" r="2"/><circle cx="229.7" cy="568.4" r="2"/><circle cx="231" cy="568.5" r="2"/><circle cx="231" cy="567.5" r="2"/><circle cx="232.3" cy="570.6" r="2"/><circle cx="233.6" cy="578.2" r="2"/><circle cx="233.9" cy="587.6" r="2"/><circle cx="215" cy="514.4" r="2"/><circle cx="215" cy="525.6" r="2"/><circle cx="219" cy="532" r="2"/><circle cx="220.6" cy="539.4" r="2"/><circle cx="219.4" cy="546.6" r="2"/><circle cx="218" cy="548" r="2"/><circle cx="220.6" cy="552" r="2"/><circle cx="215" cy="555" r="2"/><circle cx="221" cy="554" r="2"/><circle cx="225" cy="554" r="2"/><circle cx="230.6" cy="525" r="2"/><circle cx="230.6" cy="541.6" r="2"/><circle cx="230.6" cy="548" r="2"/><circle cx="230" cy="558" r="2"/><circle cx="227" cy="560" r="2"/><circle cx="230" cy="564" r="2"/><circle cx="227" cy="565.6" r="2"/></g><g fill="#fff" fill-opacity="0.95"><circle cx="213.9" cy="561.5" r="0.80"/><circle cx="223.3" cy="589.2" r="0.64"/><circle cx="226" cy="581.9" r="0.70"/><circle cx="232.3" cy="581.1" r="0.65"/><path d="M216.3 557.9L216.7 567.1M229 564.9L229.1 573.5" stroke="#fff" stroke-width="0.55" stroke-opacity="0.75" fill="none" stroke-linecap="round"/></g>
<g fill="#999999" stroke="#868686" stroke-width="0.5"><path stroke="none" d="M236.4 678.3 L236.4 610 L237 588.8 L238.3 571.6 L239.6 564.6 L240.9 561.8 L242.2 564 L243.5 567.6 L244.8 565.8 L246.1 566.6 L247.4 568.4 L248.7 567.9 L250 566.6 L251.3 566.1 L252.6 563.3 L253.9 562.9 L255.2 559.8 L256.5 564.8 L257.8 574.2 L258.9 598 L258.9 678.3 L257.7 679.5 L237.6 679.5Z"/><circle cx="238.3" cy="590.3" r="2"/><circle cx="238.3" cy="573.1" r="2"/><circle cx="239.6" cy="566.1" r="2"/><circle cx="240.9" cy="563.3" r="2"/><circle cx="241" cy="557.5" r="2"/><circle cx="242.2" cy="565.5" r="2"/><circle cx="241.6" cy="562.9" r="2"/><circle cx="243.5" cy="569" r="2"/><circle cx="244.8" cy="567.2" r="2"/><circle cx="246.1" cy="568" r="2"/><circle cx="245.9" cy="566" r="2"/><circle cx="247.4" cy="569.9" r="2"/><circle cx="247.3" cy="566.4" r="2"/><circle cx="248.7" cy="569.4" r="2"/><circle cx="250" cy="568.1" r="2"/><circle cx="250.5" cy="566.7" r="2"/><circle cx="251.3" cy="567.5" r="2"/><circle cx="252.6" cy="564.8" r="2"/><circle cx="253.9" cy="564.3" r="2"/><circle cx="255.2" cy="561.3" r="2"/><circle cx="256.5" cy="566.2" r="2"/><circle cx="256.9" cy="575.6" r="2"/><circle cx="245.4" cy="534.6" r="2"/><circle cx="240.6" cy="558" r="2"/><circle cx="255" cy="558.6" r="2"/></g><g fill="#fff" fill-opacity="0.95"><circle cx="239.5" cy="568.2" r="0.75"/><circle cx="247.3" cy="569" r="0.52"/><circle cx="254.3" cy="574.6" r="0.93"/><path d="M243.8 564.1L242.8 572.1M253.7 560L254 566.7" stroke="#fff" stroke-width="0.55" stroke-opacity="0.75" fill="none" stroke-linecap="round"/></g>
<g fill="#4d4d4d" stroke="#3b3b3b" stroke-width="0.5"><path stroke="none" d="M259.8 678.3 L259.8 610 L260.4 573 L261.7 571.7 L263 568.9 L264.3 572.1 L265.6 570.8 L266.9 570.2 L268.2 568 L269.5 564.5 L270.8 565.7 L272.1 563.8 L273.4 559.6 L274.7 559.6 L276 554.2 L277.3 553.1 L278.6 552.1 L279.9 549.9 L281.2 549.3 L282.5 551.9 L283.8 553.7 L285.1 559.1 L286.4 562.7 L287.7 576.6 L288.2 610 L288.2 678.3 L287 679.5 L261 679.5Z"/><circle cx="261.8" cy="574.5" r="2"/><circle cx="261.8" cy="573.1" r="2"/><circle cx="263" cy="570.4" r="2"/><circle cx="264.3" cy="573.6" r="2"/><circle cx="265.6" cy="572.2" r="2"/><circle cx="266.9" cy="571.6" r="2"/><circle cx="266.9" cy="569.2" r="2"/><circle cx="268.2" cy="569.5" r="2"/><circle cx="267.8" cy="567.3" r="2"/><circle cx="269.5" cy="565.9" r="2"/><circle cx="269.1" cy="560.9" r="2"/><circle cx="270.8" cy="567.1" r="2"/><circle cx="270.7" cy="562.9" r="2"/><circle cx="272.1" cy="565.2" r="2"/><circle cx="272.3" cy="561.7" r="2"/><circle cx="273.4" cy="561" r="2"/><circle cx="274.7" cy="561" r="2"/><circle cx="276" cy="555.6" r="2"/><circle cx="277.3" cy="554.6" r="2"/><circle cx="278.6" cy="553.5" r="2"/><circle cx="279.9" cy="551.3" r="2"/><circle cx="281.2" cy="550.7" r="2"/><circle cx="282.5" cy="553.4" r="2"/><circle cx="283.8" cy="555.1" r="2"/><circle cx="285.1" cy="560.5" r="2"/><circle cx="286.3" cy="564.2" r="2"/><circle cx="286.3" cy="578.1" r="2"/><circle cx="262" cy="512" r="2"/><circle cx="262" cy="530" r="2"/><circle cx="263.6" cy="532.4" r="2"/><circle cx="265.6" cy="532.4" r="2"/><circle cx="264" cy="537.4" r="2"/><circle cx="267" cy="537.4" r="2"/><circle cx="272" cy="538" r="2"/><circle cx="262" cy="543" r="2"/><circle cx="263.6" cy="548" r="2"/><circle cx="266" cy="558" r="2"/><circle cx="263.6" cy="563" r="2"/><circle cx="265.6" cy="565" r="2"/><circle cx="281" cy="536.6" r="2"/><circle cx="278" cy="539" r="2"/><circle cx="279.6" cy="542" r="2"/><circle cx="284.6" cy="542.4" r="2"/><circle cx="271.6" cy="544" r="2"/><circle cx="278" cy="545" r="2"/><circle cx="271.6" cy="548" r="2"/><circle cx="271.6" cy="553" r="2"/><circle cx="273.6" cy="554.4" r="2"/><circle cx="281" cy="548" r="2"/><circle cx="286" cy="553.4" r="2"/><circle cx="281" cy="558" r="2"/></g><g fill="#fff" fill-opacity="0.95"><circle cx="267.2" cy="572.6" r="0.70"/><circle cx="276.2" cy="556.9" r="0.89"/><circle cx="280.9" cy="553.7" r="0.90"/><circle cx="282.8" cy="556" r="0.62"/><circle cx="285" cy="562.3" r="0.55"/><path d="M263.8 566.5L263.4 572.7M271.4 558.3L272 565.7M277.4 550L277.1 554.1M283.9 551.7L282.9 559" stroke="#fff" stroke-width="0.55" stroke-opacity="0.75" fill="none" stroke-linecap="round"/></g>
<g fill="#999999" stroke="#868686" stroke-width="0.5"><path stroke="none" d="M289.2 678.3 L289.2 610 L289.8 592.4 L291.1 575 L292.4 575.4 L293.7 578.3 L295 570.2 L296.3 566.9 L297.6 564.3 L298.9 564.4 L300.2 563.9 L301.5 561.6 L302.8 560.8 L304.1 564.6 L305.4 563.6 L306.7 564.6 L308 567.8 L309.3 569.8 L310.6 578.6 L311.9 588.3 L313.2 600.1 L313.8 612 L313.8 678.3 L312.6 679.5 L290.4 679.5Z"/><circle cx="291.1" cy="593.9" r="2"/><circle cx="291.1" cy="576.5" r="2"/><circle cx="292.4" cy="576.9" r="2"/><circle cx="293.7" cy="579.8" r="2"/><circle cx="293.9" cy="579.4" r="2"/><circle cx="295" cy="571.6" r="2"/><circle cx="295.3" cy="568.1" r="2"/><circle cx="296.3" cy="568.3" r="2"/><circle cx="297.6" cy="565.7" r="2"/><circle cx="298.9" cy="565.9" r="2"/><circle cx="300.2" cy="565.3" r="2"/><circle cx="301.5" cy="563.1" r="2"/><circle cx="302.8" cy="562.3" r="2"/><circle cx="303.2" cy="562.2" r="2"/><circle cx="304.1" cy="566" r="2"/><circle cx="305.4" cy="565" r="2"/><circle cx="306.7" cy="566.1" r="2"/><circle cx="308" cy="569.3" r="2"/><circle cx="309.3" cy="571.3" r="2"/><circle cx="310.6" cy="580" r="2"/><circle cx="311.1" cy="577.5" r="2"/><circle cx="311.8" cy="589.8" r="2"/><circle cx="311.8" cy="601.5" r="2"/><circle cx="298" cy="510" r="2"/><circle cx="298" cy="515.4" r="2"/><circle cx="298" cy="526.4" r="2"/><circle cx="308.4" cy="526" r="2"/><circle cx="307" cy="529" r="2"/><circle cx="305.6" cy="535.4" r="2"/><circle cx="298" cy="538" r="2"/><circle cx="298" cy="541" r="2"/><circle cx="298" cy="544" r="2"/><circle cx="292" cy="552" r="2"/><circle cx="298" cy="552" r="2"/><circle cx="299" cy="554" r="2"/><circle cx="301" cy="555" r="2"/><circle cx="305.6" cy="556.6" r="2"/><circle cx="308.4" cy="555" r="2"/><circle cx="308.4" cy="559.6" r="2"/><circle cx="292" cy="560.6" r="2"/><circle cx="292" cy="567" r="2"/></g><g fill="#fff" fill-opacity="0.95"><circle cx="292.7" cy="578" r="0.75"/><circle cx="294.7" cy="573.3" r="0.97"/><circle cx="296.5" cy="575.3" r="0.89"/><circle cx="297.2" cy="573.1" r="0.72"/><circle cx="307.1" cy="567.7" r="0.71"/><circle cx="310.2" cy="584.1" r="0.90"/><path d="M291.8 570L291.8 578.2M298.2 560.1L299.4 566.3M306.5 560.8L306.4 566.3" stroke="#fff" stroke-width="0.55" stroke-opacity="0.75" fill="none" stroke-linecap="round"/></g>
<g fill="#4d4d4d" stroke="#3b3b3b" stroke-width="0.5"><path stroke="none" d="M314.7 678.3 L314.7 612 L315.3 600.7 L316.6 590.4 L317.9 582.4 L319.2 570.5 L320.5 569.4 L321.8 562.9 L323.1 564.1 L324.4 565 L325.7 565.8 L327 570 L328.3 577.2 L329.6 586.4 L331.1 612 L331.1 678.3 L329.9 679.5 L315.9 679.5Z"/><circle cx="316.7" cy="602.1" r="2"/><circle cx="316.7" cy="591.9" r="2"/><circle cx="317.9" cy="583.9" r="2"/><circle cx="318.4" cy="577.6" r="2"/><circle cx="317.6" cy="580" r="2"/><circle cx="319.2" cy="572" r="2"/><circle cx="320.5" cy="570.9" r="2"/><circle cx="321.8" cy="564.3" r="2"/><circle cx="323.1" cy="565.6" r="2"/><circle cx="324.4" cy="566.5" r="2"/><circle cx="325.7" cy="567.3" r="2"/><circle cx="327" cy="571.5" r="2"/><circle cx="328.3" cy="578.7" r="2"/><circle cx="329.2" cy="587.8" r="2"/><circle cx="320" cy="546.6" r="2"/><circle cx="323.6" cy="550.6" r="2"/><circle cx="327" cy="553.6" r="2"/><circle cx="327.6" cy="555.6" r="2"/><circle cx="323.6" cy="559.6" r="2"/><circle cx="327" cy="564.6" r="2"/></g><g fill="#fff" fill-opacity="0.95"><circle cx="319.2" cy="578.5" r="0.75"/><circle cx="322.3" cy="567" r="0.64"/><path d="M321.5 561.3L322.9 567.3" stroke="#fff" stroke-width="0.55" stroke-opacity="0.75" fill="none" stroke-linecap="round"/></g>
<g fill="#999999" stroke="#868686" stroke-width="0.5"><path stroke="none" d="M331.9 678.3 L331.9 612 L332.5 585.1 L333.8 583.8 L335.1 578.8 L336.4 575 L337.7 571.7 L339 572.9 L340.3 572.1 L341.6 578.2 L342.9 578.3 L344.2 572.7 L345.5 571.9 L346.8 571.9 L348.1 574 L349.4 571.2 L350.7 572.2 L352 578.4 L353.3 591.4 L354 606 L354 678.3 L352.8 679.5 L333.1 679.5Z"/><circle cx="333.8" cy="586.6" r="2"/><circle cx="333.8" cy="585.2" r="2"/><circle cx="335.1" cy="580.2" r="2"/><circle cx="336.4" cy="576.4" r="2"/><circle cx="337.7" cy="573.2" r="2"/><circle cx="338.1" cy="571.9" r="2"/><circle cx="339" cy="574.3" r="2"/><circle cx="340.3" cy="573.6" r="2"/><circle cx="340.3" cy="571.6" r="2"/><circle cx="341.6" cy="579.6" r="2"/><circle cx="342.9" cy="579.8" r="2"/><circle cx="344.2" cy="574.1" r="2"/><circle cx="345.5" cy="573.4" r="2"/><circle cx="346.8" cy="573.3" r="2"/><circle cx="347.2" cy="572.2" r="2"/><circle cx="348.1" cy="575.5" r="2"/><circle cx="349.4" cy="572.6" r="2"/><circle cx="350.7" cy="573.6" r="2"/><circle cx="352" cy="579.9" r="2"/><circle cx="352" cy="592.8" r="2"/><circle cx="344.6" cy="501" r="2"/><circle cx="345.2" cy="503.4" r="2"/><circle cx="345.5" cy="505.8" r="2"/><circle cx="345.5" cy="508.4" r="2"/><circle cx="345.2" cy="511" r="2"/><circle cx="345.2" cy="513.7" r="2"/><circle cx="344.7" cy="516.2" r="2"/><circle cx="345.5" cy="518.8" r="2"/><circle cx="344.9" cy="521.8" r="2"/><circle cx="344.1" cy="508" r="2"/><circle cx="343.7" cy="510.5" r="2"/><circle cx="343.4" cy="513" r="2"/><circle cx="343.3" cy="515.7" r="2"/><circle cx="343.3" cy="518.5" r="2"/><circle cx="343.2" cy="521.1" r="2"/><circle cx="345" cy="482" r="2"/><circle cx="345" cy="494.4" r="2"/><circle cx="342" cy="499.4" r="2"/><circle cx="342" cy="523.4" r="2"/><circle cx="345" cy="528" r="2"/><circle cx="345" cy="532.6" r="2"/><circle cx="349" cy="535" r="2"/><circle cx="345" cy="539.6" r="2"/><circle cx="342" cy="541" r="2"/><circle cx="334" cy="547.4" r="2"/><circle cx="334" cy="553.6" r="2"/><circle cx="351.6" cy="547.4" r="2"/><circle cx="345" cy="548.6" r="2"/><circle cx="350" cy="552" r="2"/><circle cx="342" cy="554" r="2"/><circle cx="350" cy="556" r="2"/><circle cx="345" cy="558" r="2"/><circle cx="336.6" cy="562" r="2"/><circle cx="340" cy="561" r="2"/><circle cx="350" cy="562" r="2"/><circle cx="344" cy="564" r="2"/><circle cx="351.6" cy="567" r="2"/></g><g fill="#fff" fill-opacity="0.95"><circle cx="341.7" cy="580.2" r="0.70"/><path d="M338.7 565.8L340.1 571.4M344.7 568.5L344 572.7" stroke="#fff" stroke-width="0.55" stroke-opacity="0.75" fill="none" stroke-linecap="round"/></g>
<g fill="#4d4d4d" stroke="#3b3b3b" stroke-width="0.5"><path stroke="none" d="M354.7 678.3 L354.7 612 L355.3 584.4 L356.6 577.4 L357.9 571.8 L359.2 570.2 L360.5 572.9 L361.8 578.8 L363.1 578.8 L364.4 579.4 L365.7 572.3 L367 572.1 L368.3 571.9 L369.6 569.5 L370.9 570.4 L372.2 566.4 L373.5 570.2 L374.8 576.9 L375.8 606 L375.8 678.3 L374.6 679.5 L355.9 679.5Z"/><circle cx="356.6" cy="585.8" r="2"/><circle cx="356.6" cy="578.8" r="2"/><circle cx="357.9" cy="573.3" r="2"/><circle cx="359.2" cy="571.7" r="2"/><circle cx="360.5" cy="574.3" r="2"/><circle cx="360.3" cy="572" r="2"/><circle cx="361.8" cy="580.3" r="2"/><circle cx="363.1" cy="580.3" r="2"/><circle cx="363.4" cy="579.1" r="2"/><circle cx="364.4" cy="580.8" r="2"/><circle cx="365.7" cy="573.8" r="2"/><circle cx="367" cy="573.6" r="2"/><circle cx="368.3" cy="573.4" r="2"/><circle cx="369.6" cy="571" r="2"/><circle cx="370.9" cy="571.8" r="2"/><circle cx="370.7" cy="567" r="2"/><circle cx="372.2" cy="567.9" r="2"/><circle cx="373.5" cy="571.7" r="2"/><circle cx="373.8" cy="578.4" r="2"/><circle cx="363" cy="549.4" r="2"/><circle cx="371" cy="549.4" r="2"/><circle cx="360.6" cy="552.6" r="2"/><circle cx="365" cy="554" r="2"/><circle cx="360.6" cy="558.6" r="2"/><circle cx="364" cy="561" r="2"/><circle cx="360.6" cy="564" r="2"/><circle cx="366" cy="564" r="2"/><circle cx="372" cy="563" r="2"/><circle cx="363.6" cy="569" r="2"/></g><g fill="#fff" fill-opacity="0.95"><circle cx="360.2" cy="577.1" r="0.68"/><circle cx="369.6" cy="575.2" r="0.68"/><path d="M357.9 568.8L358.8 573.7M363 574.9L362.4 582.1M371.1 565.4L370 574.7" stroke="#fff" stroke-width="0.55" stroke-opacity="0.75" fill="none" stroke-linecap="round"/></g>
<g fill="#999999" stroke="#868686" stroke-width="0.5"><path stroke="none" d="M376.5 678.3 L376.5 612 L377.1 584 L378.4 577 L379.7 572.5 L381 577.3 L382.3 577.5 L383.6 574.7 L384.9 572.6 L386.2 569.4 L387.5 568.4 L388.8 563.9 L390.1 565.7 L391.4 575 L392.7 580.1 L394 585.3 L395.3 575.9 L396.6 566.6 L397.9 567.2 L399.2 566.8 L400.5 578 L401.9 610 L401.9 678.3 L400.7 679.5 L377.7 679.5Z"/><circle cx="378.5" cy="585.4" r="2"/><circle cx="378.5" cy="578.5" r="2"/><circle cx="379.7" cy="574" r="2"/><circle cx="381" cy="578.8" r="2"/><circle cx="382.3" cy="578.9" r="2"/><circle cx="383.6" cy="576.2" r="2"/><circle cx="384.2" cy="570.8" r="2"/><circle cx="383.4" cy="573.2" r="2"/><circle cx="384.9" cy="574" r="2"/><circle cx="386.2" cy="570.9" r="2"/><circle cx="387.5" cy="569.8" r="2"/><circle cx="387.6" cy="566.6" r="2"/><circle cx="388.8" cy="565.4" r="2"/><circle cx="390.1" cy="567.1" r="2"/><circle cx="390.7" cy="565.5" r="2"/><circle cx="391.4" cy="576.4" r="2"/><circle cx="391.9" cy="570.4" r="2"/><circle cx="391.4" cy="572.8" r="2"/><circle cx="392.7" cy="581.6" r="2"/><circle cx="394" cy="586.7" r="2"/><circle cx="393.6" cy="580.4" r="2"/><circle cx="395.3" cy="577.3" r="2"/><circle cx="396.6" cy="568.1" r="2"/><circle cx="397.9" cy="568.6" r="2"/><circle cx="397.7" cy="566.9" r="2"/><circle cx="399.2" cy="568.2" r="2"/><circle cx="400" cy="579.5" r="2"/><circle cx="389.4" cy="547" r="2"/><circle cx="389.4" cy="549.6" r="2"/><circle cx="389.6" cy="552.6" r="2"/><circle cx="389.6" cy="555.6" r="2"/><circle cx="389.7" cy="558.3" r="2"/><circle cx="389.6" cy="560.7" r="2"/><circle cx="389.6" cy="563.4" r="2"/><circle cx="398.6" cy="550" r="2"/><circle cx="396" cy="555.4" r="2"/><circle cx="398.6" cy="557" r="2"/><circle cx="398.6" cy="561" r="2"/><circle cx="387" cy="564" r="2"/><circle cx="396" cy="568" r="2"/></g><g fill="#fff" fill-opacity="0.95"><circle cx="379.7" cy="575.8" r="0.91"/><circle cx="382.5" cy="579.1" r="0.92"/><circle cx="394.9" cy="582.8" r="0.56"/><path d="M383 573.8L381.5 581.3" stroke="#fff" stroke-width="0.55" stroke-opacity="0.75" fill="none" stroke-linecap="round"/></g>
<g fill="#4d4d4d" stroke="#3b3b3b" stroke-width="0.5"><path stroke="none" d="M402.6 678.3 L402.6 612 L403.2 581.5 L404.5 571.9 L405.8 571.6 L407.1 580.9 L408.4 583 L409.7 584.1 L411 581.7 L412.3 579.3 L413.6 579.1 L414.9 578.9 L416.2 581.4 L417.5 591.2 L418.8 597.2 L419.3 612 L419.3 678.3 L418.1 679.5 L403.8 679.5Z"/><circle cx="404.5" cy="582.9" r="2"/><circle cx="404.5" cy="573.4" r="2"/><circle cx="405.8" cy="573.1" r="2"/><circle cx="407.1" cy="582.3" r="2"/><circle cx="408.4" cy="584.5" r="2"/><circle cx="409.7" cy="585.6" r="2"/><circle cx="411" cy="583.1" r="2"/><circle cx="412.3" cy="580.8" r="2"/><circle cx="413.6" cy="580.6" r="2"/><circle cx="413.9" cy="579.6" r="2"/><circle cx="414.9" cy="580.4" r="2"/><circle cx="416.2" cy="582.8" r="2"/><circle cx="417.3" cy="592.6" r="2"/><circle cx="417.3" cy="598.6" r="2"/><circle cx="415.4" cy="525" r="2"/><circle cx="412" cy="537.4" r="2"/><circle cx="411" cy="542" r="2"/><circle cx="414" cy="543.6" r="2"/><circle cx="412" cy="547" r="2"/><circle cx="415" cy="548" r="2"/><circle cx="413" cy="550" r="2"/><circle cx="414" cy="555" r="2"/><circle cx="412" cy="558" r="2"/><circle cx="405" cy="560.6" r="2"/><circle cx="406" cy="565" r="2"/><circle cx="415.4" cy="566" r="2"/><circle cx="410.6" cy="569.4" r="2"/></g><g fill="#fff" fill-opacity="0.95"><circle cx="405.6" cy="574.5" r="0.58"/><path d="M408.1 580.5L406.7 587.8" stroke="#fff" stroke-width="0.55" stroke-opacity="0.75" fill="none" stroke-linecap="round"/></g>
<g fill="#999999" stroke="#868686" stroke-width="0.5"><path stroke="none" d="M420 678.3 L420 612 L420.6 591.9 L421.9 576.8 L423.2 571.9 L424.5 573.4 L425.8 576.1 L427.1 579.9 L428.4 579.1 L429.7 578.7 L431 580.7 L432.3 592.9 L433.4 612 L433.4 678.3 L432.2 679.5 L421.2 679.5Z"/><circle cx="422" cy="593.3" r="2"/><circle cx="422" cy="578.2" r="2"/><circle cx="423.2" cy="573.3" r="2"/><circle cx="424.5" cy="574.8" r="2"/><circle cx="424.7" cy="572.7" r="2"/><circle cx="425.8" cy="577.5" r="2"/><circle cx="426.2" cy="569.8" r="2"/><circle cx="425.8" cy="572.2" r="2"/><circle cx="427.1" cy="581.3" r="2"/><circle cx="428.4" cy="580.6" r="2"/><circle cx="429.7" cy="580.2" r="2"/><circle cx="431" cy="582.2" r="2"/><circle cx="431.4" cy="594.3" r="2"/><circle cx="425.6" cy="539" r="2"/><circle cx="425" cy="548.6" r="2"/><circle cx="425" cy="551.6" r="2"/><circle cx="422" cy="555.6" r="2"/><circle cx="430" cy="559" r="2"/><circle cx="430" cy="564" r="2"/><circle cx="422.4" cy="565" r="2"/></g><g fill="#fff" fill-opacity="0.95"><circle cx="428.8" cy="590.3" r="0.81"/><path d="M422.9 571.5L421.4 575.8" stroke="#fff" stroke-width="0.55" stroke-opacity="0.75" fill="none" stroke-linecap="round"/></g>
<g fill="#4d4d4d" stroke="#3b3b3b" stroke-width="0.5"><path stroke="none" d="M434 678.3 L434 612 L434.6 573.9 L435.9 566.2 L437.2 567.8 L438.5 571.2 L439.8 569.4 L441.1 568 L442.4 562.7 L443.7 551.2 L445 549.5 L446.3 557.1 L447.6 586 L448.2 612 L448.2 678.3 L447 679.5 L435.2 679.5Z"/><circle cx="436" cy="575.4" r="2"/><circle cx="436" cy="567.7" r="2"/><circle cx="437.2" cy="569.2" r="2"/><circle cx="438.5" cy="572.6" r="2"/><circle cx="439.8" cy="570.8" r="2"/><circle cx="441.1" cy="569.4" r="2"/><circle cx="442.4" cy="564.2" r="2"/><circle cx="443.7" cy="552.7" r="2"/><circle cx="444.1" cy="544.7" r="2"/><circle cx="443.9" cy="547.1" r="2"/><circle cx="445" cy="550.9" r="2"/><circle cx="446.3" cy="558.6" r="2"/><circle cx="446.3" cy="587.5" r="2"/><circle cx="443.9" cy="508" r="2"/><circle cx="444.2" cy="510.9" r="2"/><circle cx="444.6" cy="513.7" r="2"/><circle cx="444.1" cy="516.4" r="2"/><circle cx="444.8" cy="519" r="2"/><circle cx="444.2" cy="522" r="2"/><circle cx="444.9" cy="524.8" r="2"/><circle cx="444" cy="548" r="2"/><circle cx="444.2" cy="551" r="2"/><circle cx="444.3" cy="553.8" r="2"/><circle cx="443.7" cy="556.4" r="2"/><circle cx="443.8" cy="559" r="2"/><circle cx="443.6" cy="561.7" r="2"/><circle cx="444.2" cy="564.7" r="2"/><circle cx="444.2" cy="567.6" r="2"/><circle cx="443.9" cy="570.6" r="2"/><circle cx="443.7" cy="573.1" r="2"/><circle cx="444.4" cy="459.4" r="2"/><circle cx="444.4" cy="471" r="2"/><circle cx="444.4" cy="479.4" r="2"/><circle cx="444.4" cy="485" r="2"/><circle cx="444.4" cy="493.6" r="2"/><circle cx="439.4" cy="547.4" r="2"/><circle cx="437" cy="563" r="2"/></g><g fill="#fff" fill-opacity="0.95"><circle cx="441.2" cy="570.8" r="0.51"/><path d="M439.4 567.3L439.8 575" stroke="#fff" stroke-width="0.55" stroke-opacity="0.75" fill="none" stroke-linecap="round"/></g>
<g fill="#999999" stroke="#868686" stroke-width="0.5"><path stroke="none" d="M449.1 678.3 L449.1 612 L449.7 588 L451 568.9 L452.3 560.3 L453.6 567.9 L454.9 572.4 L456.2 575 L457.5 568.3 L458.8 563.7 L460.1 562.5 L461.4 574.3 L462.5 612 L462.5 678.3 L461.3 679.5 L450.3 679.5Z"/><circle cx="451" cy="589.5" r="2"/><circle cx="451" cy="570.3" r="2"/><circle cx="452.3" cy="561.8" r="2"/><circle cx="453.6" cy="569.3" r="2"/><circle cx="454.9" cy="573.9" r="2"/><circle cx="456.2" cy="576.5" r="2"/><circle cx="457.5" cy="569.7" r="2"/><circle cx="458.8" cy="565.2" r="2"/><circle cx="460.1" cy="563.9" r="2"/><circle cx="460.6" cy="575.8" r="2"/><circle cx="459.4" cy="544" r="2"/><circle cx="459" cy="549.4" r="2"/></g><g fill="#fff" fill-opacity="0.95"><circle cx="454.4" cy="573.6" r="0.90"/><circle cx="459.1" cy="566" r="0.82"/><path d="M452.6 561L452.3 568.8" stroke="#fff" stroke-width="0.55" stroke-opacity="0.75" fill="none" stroke-linecap="round"/></g>
<g fill="#4d4d4d" stroke="#3b3b3b" stroke-width="0.5"><path stroke="none" d="M463.5 678.3 L463.5 612 L464.1 586.1 L465.4 574.5 L466.7 570.9 L468 569.5 L469.3 569 L470.6 560.2 L471.9 553.4 L473.2 551.3 L474.5 550.6 L475.8 569.4 L476.8 612 L476.8 678.3 L475.6 679.5 L464.7 679.5Z"/><circle cx="465.4" cy="587.5" r="2"/><circle cx="465.4" cy="576" r="2"/><circle cx="466.7" cy="572.4" r="2"/><circle cx="467.1" cy="565.9" r="2"/><circle cx="467.1" cy="568.3" r="2"/><circle cx="468" cy="570.9" r="2"/><circle cx="469.3" cy="570.4" r="2"/><circle cx="469.5" cy="567.1" r="2"/><circle cx="470.6" cy="561.7" r="2"/><circle cx="471.9" cy="554.9" r="2"/><circle cx="473.2" cy="552.8" r="2"/><circle cx="474.5" cy="552" r="2"/><circle cx="474.8" cy="570.9" r="2"/><circle cx="472.4" cy="550" r="2"/><circle cx="472.8" cy="552.7" r="2"/><circle cx="472.5" cy="555.2" r="2"/><circle cx="472.2" cy="558.1" r="2"/><circle cx="472.4" cy="560.7" r="2"/><circle cx="473.1" cy="563.5" r="2"/><circle cx="472.6" cy="566" r="2"/><circle cx="473" cy="568.9" r="2"/><circle cx="466.4" cy="543" r="2"/><circle cx="472" cy="549.4" r="2"/><circle cx="474.4" cy="549.4" r="2"/></g><g fill="#fff" fill-opacity="0.95"><circle cx="466.5" cy="579.2" r="0.99"/><path d="M468.7 565.7L468.2 570.6" stroke="#fff" stroke-width="0.55" stroke-opacity="0.75" fill="none" stroke-linecap="round"/></g>
<g fill="#999999" stroke="#868686" stroke-width="0.5"><path stroke="none" d="M477.9 678.3 L477.9 612 L478.5 586.5 L479.8 570 L481.1 565.2 L482.4 569 L483.7 573 L485 574.5 L486.3 579.3 L487.6 588.9 L488.8 612 L488.8 678.3 L487.6 679.5 L479.1 679.5Z"/><circle cx="479.9" cy="587.9" r="2"/><circle cx="479.9" cy="571.5" r="2"/><circle cx="481.1" cy="566.7" r="2"/><circle cx="482.4" cy="570.5" r="2"/><circle cx="482.8" cy="565" r="2"/><circle cx="482.6" cy="567.4" r="2"/><circle cx="483.7" cy="574.4" r="2"/><circle cx="485" cy="575.9" r="2"/><circle cx="486.3" cy="580.7" r="2"/><circle cx="486.8" cy="590.3" r="2"/><circle cx="481.6" cy="537" r="2"/><circle cx="482" cy="554.6" r="2"/><circle cx="482" cy="560" r="2"/></g><g fill="#fff" fill-opacity="0.95"><circle cx="480.7" cy="568" r="0.82"/><path d="" stroke="#fff" stroke-width="0.55" stroke-opacity="0.75" fill="none" stroke-linecap="round"/></g>
<g fill="#4d4d4d" stroke="#3b3b3b" stroke-width="0.5"><path stroke="none" d="M489.3 678.3 L489.3 612 L489.9 593.7 L491.2 571.8 L492.5 560.9 L493.8 560.1 L495.1 570.9 L496.4 580.7 L498 612 L498 678.3 L496.8 679.5 L490.5 679.5Z"/><circle cx="491.3" cy="595.2" r="2"/><circle cx="491.3" cy="573.3" r="2"/><circle cx="492.5" cy="562.3" r="2"/><circle cx="492.9" cy="560.8" r="2"/><circle cx="493.8" cy="561.6" r="2"/><circle cx="495.1" cy="572.3" r="2"/><circle cx="495" cy="566.1" r="2"/><circle cx="496.1" cy="582.2" r="2"/><circle cx="492" cy="532.6" r="2"/><circle cx="493" cy="539.4" r="2"/></g><g fill="#fff" fill-opacity="0.95"><path d="" stroke="#fff" stroke-width="0.55" stroke-opacity="0.75" fill="none" stroke-linecap="round"/></g>
<g fill="#999999" stroke="#868686" stroke-width="0.5"><path stroke="none" d="M499 678.3 L499 612 L499.6 588.2 L500.9 573.7 L502.2 566.2 L503.5 567.4 L504.8 565.1 L506.1 565.1 L507.4 567.9 L508.7 573.1 L510 577.9 L511.3 578 L512.6 578.2 L513.9 573 L515.2 571.2 L516.5 570.5 L517.8 570 L519.1 571.8 L520.4 577.3 L521.7 587.6 L523.2 612 L523.2 678.3 L522 679.5 L500.2 679.5Z"/><circle cx="500.9" cy="589.7" r="2"/><circle cx="500.9" cy="575.1" r="2"/><circle cx="502.2" cy="567.6" r="2"/><circle cx="503.5" cy="568.8" r="2"/><circle cx="504.1" cy="566.2" r="2"/><circle cx="504.8" cy="566.6" r="2"/><circle cx="506.1" cy="566.5" r="2"/><circle cx="507.4" cy="569.4" r="2"/><circle cx="508.7" cy="574.5" r="2"/><circle cx="510" cy="579.4" r="2"/><circle cx="511.3" cy="579.5" r="2"/><circle cx="511.8" cy="576" r="2"/><circle cx="512.6" cy="579.6" r="2"/><circle cx="513" cy="576" r="2"/><circle cx="513.9" cy="574.5" r="2"/><circle cx="515.2" cy="572.6" r="2"/><circle cx="516.5" cy="572" r="2"/><circle cx="517.8" cy="571.5" r="2"/><circle cx="519.1" cy="573.2" r="2"/><circle cx="520.4" cy="578.8" r="2"/><circle cx="520.2" cy="576.4" r="2"/><circle cx="521.2" cy="589.1" r="2"/><circle cx="504.1" cy="511" r="2"/><circle cx="503.1" cy="513.9" r="2"/><circle cx="503.2" cy="516.4" r="2"/><circle cx="503.1" cy="518.8" r="2"/><circle cx="503.5" cy="536" r="2"/><circle cx="503.3" cy="538.9" r="2"/><circle cx="504.1" cy="541.5" r="2"/><circle cx="504" cy="543.9" r="2"/><circle cx="503.6" cy="546.4" r="2"/><circle cx="503.7" cy="549.1" r="2"/><circle cx="503.2" cy="551.9" r="2"/><circle cx="503.3" cy="554.9" r="2"/><circle cx="503.1" cy="557.5" r="2"/><circle cx="503.7" cy="560" r="2"/><circle cx="504.1" cy="562.8" r="2"/><circle cx="503.4" cy="565.8" r="2"/><circle cx="503.6" cy="495.4" r="2"/><circle cx="503.6" cy="502" r="2"/><circle cx="503.6" cy="506.2" r="2"/><circle cx="504" cy="530" r="2"/><circle cx="508" cy="530" r="2"/><circle cx="508" cy="537" r="2"/><circle cx="511" cy="539.4" r="2"/><circle cx="513" cy="548" r="2"/><circle cx="511.6" cy="550.6" r="2"/><circle cx="508" cy="544" r="2"/><circle cx="508" cy="557" r="2"/><circle cx="502" cy="554" r="2"/><circle cx="502" cy="561" r="2"/><circle cx="517" cy="559" r="2"/><circle cx="517" cy="562.6" r="2"/><circle cx="511" cy="570" r="2"/><circle cx="519" cy="568" r="2"/></g><g fill="#fff" fill-opacity="0.95"><circle cx="503.6" cy="568.1" r="0.95"/><circle cx="504.9" cy="568.4" r="0.96"/><circle cx="509.6" cy="587.1" r="0.60"/><circle cx="510.8" cy="581.4" r="0.90"/><circle cx="514.1" cy="577.8" r="0.95"/><circle cx="517.4" cy="572.3" r="0.72"/><circle cx="518.7" cy="574.4" r="0.76"/><path d="M503 564.1L502.6 569.6M513.9 571.6L515.2 576.8" stroke="#fff" stroke-width="0.55" stroke-opacity="0.75" fill="none" stroke-linecap="round"/></g>
<g fill="#4d4d4d" stroke="#3b3b3b" stroke-width="0.5"><path stroke="none" d="M523.9 678.3 L523.9 612 L524.5 589.1 L525.8 578.8 L527.1 576.1 L528.4 570 L529.7 565.5 L531 563.6 L532.3 566.4 L533.6 573.6 L534.9 571.4 L536.2 570.8 L537.5 566 L538.8 562.5 L540.1 560 L541.4 562.9 L542.7 562.5 L544 563.2 L545.3 570.8 L546.6 587.6 L547.3 612 L547.3 678.3 L546.1 679.5 L525.1 679.5Z"/><circle cx="525.9" cy="590.6" r="2"/><circle cx="525.9" cy="580.2" r="2"/><circle cx="527.1" cy="577.5" r="2"/><circle cx="528.4" cy="571.5" r="2"/><circle cx="529.7" cy="566.9" r="2"/><circle cx="531" cy="565" r="2"/><circle cx="532.3" cy="567.9" r="2"/><circle cx="533.6" cy="575" r="2"/><circle cx="534.9" cy="572.9" r="2"/><circle cx="536.2" cy="572.3" r="2"/><circle cx="537.5" cy="567.4" r="2"/><circle cx="538.8" cy="563.9" r="2"/><circle cx="540.1" cy="561.4" r="2"/><circle cx="541.4" cy="564.4" r="2"/><circle cx="542.7" cy="564" r="2"/><circle cx="544" cy="564.7" r="2"/><circle cx="545.3" cy="572.2" r="2"/><circle cx="545.4" cy="589" r="2"/><circle cx="539" cy="534.4" r="2"/><circle cx="541.6" cy="535.8" r="2"/><circle cx="539.6" cy="539.2" r="2"/><circle cx="542.4" cy="539.8" r="2"/><circle cx="539" cy="543.2" r="2"/><circle cx="541" cy="547.2" r="2"/><circle cx="539.6" cy="550.6" r="2"/><circle cx="543.6" cy="552" r="2"/><circle cx="539.6" cy="555.4" r="2"/><circle cx="543.6" cy="558" r="2"/><circle cx="539" cy="558" r="2"/><circle cx="541.6" cy="556.8" r="2"/><circle cx="539" cy="519" r="2"/><circle cx="541" cy="519" r="2"/><circle cx="538.6" cy="524" r="2"/><circle cx="527.4" cy="543" r="2"/><circle cx="527.4" cy="548" r="2"/><circle cx="529" cy="552.6" r="2"/><circle cx="533" cy="559" r="2"/><circle cx="529" cy="562" r="2"/><circle cx="533" cy="566" r="2"/><circle cx="543.4" cy="553" r="2"/><circle cx="543.4" cy="559" r="2"/></g><g fill="#fff" fill-opacity="0.95"><circle cx="535.4" cy="579.8" r="0.62"/><path d="M531.1 560.6L531.5 565.1" stroke="#fff" stroke-width="0.55" stroke-opacity="0.75" fill="none" stroke-linecap="round"/></g>
<g fill="#999999" stroke="#868686" stroke-width="0.5"><path stroke="none" d="M548.1 678.3 L548.1 612 L548.7 577.6 L550 553.8 L551.3 544.7 L552.6 543.2 L553.9 547.4 L555.2 551.9 L556.5 560.6 L557.8 571.4 L559.3 612 L559.3 678.3 L558.1 679.5 L549.3 679.5Z"/><circle cx="550.1" cy="579" r="2"/><circle cx="550.1" cy="555.2" r="2"/><circle cx="551.3" cy="546.1" r="2"/><circle cx="551.9" cy="545.2" r="2"/><circle cx="552.6" cy="544.6" r="2"/><circle cx="553.9" cy="548.9" r="2"/><circle cx="555.2" cy="553.3" r="2"/><circle cx="554.9" cy="551.9" r="2"/><circle cx="556.5" cy="562" r="2"/><circle cx="556.7" cy="555.5" r="2"/><circle cx="557.4" cy="572.8" r="2"/><circle cx="555" cy="516.6" r="2"/><circle cx="554" cy="527.6" r="2"/><circle cx="554.6" cy="535" r="2"/><circle cx="554.6" cy="538" r="2"/></g><g fill="#fff" fill-opacity="0.95"><circle cx="554.9" cy="557.4" r="0.75"/><path d="M553 540.8L552.2 545.1" stroke="#fff" stroke-width="0.55" stroke-opacity="0.75" fill="none" stroke-linecap="round"/></g>
<g fill="#4d4d4d" stroke="#3b3b3b" stroke-width="0.5"><path stroke="none" d="M560.3 678.3 L560.3 612 L560.9 575.2 L562.2 551.9 L563.5 555.3 L564.8 561.6 L566.1 562.3 L567.4 562.9 L568.7 566 L570 570 L571.3 582.9 L572.6 597.4 L573.1 612 L573.1 678.3 L571.9 679.5 L561.5 679.5Z"/><circle cx="562.2" cy="576.6" r="2"/><circle cx="562.2" cy="553.4" r="2"/><circle cx="563.5" cy="556.7" r="2"/><circle cx="563.6" cy="555.3" r="2"/><circle cx="564.8" cy="563" r="2"/><circle cx="566.1" cy="563.7" r="2"/><circle cx="566.2" cy="561.6" r="2"/><circle cx="567.4" cy="564.3" r="2"/><circle cx="567" cy="563.4" r="2"/><circle cx="568.7" cy="567.4" r="2"/><circle cx="570" cy="571.5" r="2"/><circle cx="571.2" cy="584.3" r="2"/><circle cx="571.2" cy="598.9" r="2"/><circle cx="564.1" cy="528" r="2"/><circle cx="564.1" cy="530.8" r="2"/><circle cx="563.6" cy="533.3" r="2"/><circle cx="563.4" cy="536.1" r="2"/><circle cx="563.6" cy="538.9" r="2"/><circle cx="563.3" cy="541.5" r="2"/><circle cx="563.5" cy="544.3" r="2"/><circle cx="563.1" cy="546.9" r="2"/><circle cx="563.8" cy="549.6" r="2"/><circle cx="564" cy="552.1" r="2"/><circle cx="563.2" cy="554.6" r="2"/><circle cx="563.6" cy="522" r="2"/><circle cx="565" cy="520.6" r="2"/><circle cx="568.4" cy="564.4" r="2"/><circle cx="570" cy="570" r="2"/><circle cx="570" cy="574" r="2"/></g><g fill="#fff" fill-opacity="0.95"><circle cx="567.1" cy="573.4" r="0.84"/><circle cx="570.2" cy="573.5" r="0.68"/><path d="M567.2 561.7L565.9 566.7" stroke="#fff" stroke-width="0.55" stroke-opacity="0.75" fill="none" stroke-linecap="round"/></g>
<g fill="#999999" stroke="#868686" stroke-width="0.5"><path stroke="none" d="M574.4 678.3 L574.4 612 L575 588.4 L576.3 575.1 L577.6 568.7 L578.9 566.4 L580.2 567.9 L581.5 569.7 L582.8 570.3 L584.1 562.4 L585.4 572.3 L586.7 593.6 L587.3 612 L587.3 678.3 L586.1 679.5 L575.6 679.5Z"/><circle cx="576.3" cy="589.8" r="2"/><circle cx="576.3" cy="576.5" r="2"/><circle cx="577.6" cy="570.1" r="2"/><circle cx="578" cy="566.6" r="2"/><circle cx="578.9" cy="567.8" r="2"/><circle cx="580.2" cy="569.4" r="2"/><circle cx="581.5" cy="571.2" r="2"/><circle cx="582.8" cy="571.7" r="2"/><circle cx="582.4" cy="564.6" r="2"/><circle cx="584.1" cy="563.8" r="2"/><circle cx="584.4" cy="556.6" r="2"/><circle cx="585.3" cy="573.7" r="2"/><circle cx="585.3" cy="595" r="2"/><circle cx="583.9" cy="538" r="2"/><circle cx="583.5" cy="540.5" r="2"/><circle cx="583.5" cy="543.3" r="2"/><circle cx="584.5" cy="545.7" r="2"/><circle cx="583.8" cy="548.3" r="2"/><circle cx="583.5" cy="551.2" r="2"/><circle cx="584" cy="554.2" r="2"/><circle cx="583.6" cy="556.6" r="2"/><circle cx="584.2" cy="559.3" r="2"/><circle cx="583.8" cy="562" r="2"/><circle cx="578" cy="559.4" r="2"/><circle cx="580" cy="564" r="2"/></g><g fill="#fff" fill-opacity="0.95"><circle cx="583" cy="576.1" r="0.79"/><path d="M579 563.2L578.9 568.5" stroke="#fff" stroke-width="0.55" stroke-opacity="0.75" fill="none" stroke-linecap="round"/></g>
<g fill="#4d4d4d" stroke="#3b3b3b" stroke-width="0.5"><path stroke="none" d="M588.1 678.3 L588.1 612 L588.7 582.6 L590 568.2 L591.3 559 L592.6 555.4 L593.9 564.8 L595.2 564.3 L596.5 567.4 L597.8 569 L599.1 572.5 L600.4 586.1 L601.3 612 L601.3 678.3 L600.1 679.5 L589.3 679.5Z"/><circle cx="590.1" cy="584.1" r="2"/><circle cx="590.1" cy="569.6" r="2"/><circle cx="591.3" cy="560.5" r="2"/><circle cx="592.6" cy="556.8" r="2"/><circle cx="592.8" cy="553.1" r="2"/><circle cx="593.9" cy="566.2" r="2"/><circle cx="595.2" cy="565.7" r="2"/><circle cx="596.5" cy="568.8" r="2"/><circle cx="597.8" cy="570.5" r="2"/><circle cx="599.1" cy="574" r="2"/><circle cx="599.4" cy="587.5" r="2"/><circle cx="591.8" cy="551" r="2"/><circle cx="591.5" cy="553.6" r="2"/><circle cx="592.2" cy="556.6" r="2"/><circle cx="591.8" cy="559.2" r="2"/><circle cx="591.7" cy="562.3" r="2"/><circle cx="591.5" cy="565" r="2"/><circle cx="599" cy="570" r="2"/></g><g fill="#fff" fill-opacity="0.95"><circle cx="595.6" cy="569.6" r="0.85"/><circle cx="597.6" cy="577.5" r="0.93"/><path d="M596.9 565.2L596.5 572.1" stroke="#fff" stroke-width="0.55" stroke-opacity="0.75" fill="none" stroke-linecap="round"/></g>
<g fill="#999999" stroke="#868686" stroke-width="0.5"><path stroke="none" d="M602.6 678.3 L602.6 612 L603.2 571.2 L604.5 559 L605.8 549.5 L607.1 543.4 L608.4 546.9 L609.7 558.4 L611 577.7 L612.3 612 L612.3 678.3 L611.1 679.5 L603.8 679.5Z"/><circle cx="604.6" cy="572.7" r="2"/><circle cx="604.6" cy="560.5" r="2"/><circle cx="605.8" cy="551" r="2"/><circle cx="607.1" cy="544.8" r="2"/><circle cx="607.2" cy="541.6" r="2"/><circle cx="608.4" cy="548.3" r="2"/><circle cx="609.7" cy="559.9" r="2"/><circle cx="610.4" cy="579.2" r="2"/><circle cx="607" cy="542" r="2"/><circle cx="607.4" cy="544.7" r="2"/><circle cx="607.5" cy="547.2" r="2"/><circle cx="607.2" cy="550.1" r="2"/><circle cx="607.9" cy="552.6" r="2"/><circle cx="606.9" cy="555.3" r="2"/><circle cx="607.6" cy="557.8" r="2"/><circle cx="606.8" cy="479" r="2"/><circle cx="606.8" cy="517" r="2"/><circle cx="606.8" cy="521" r="2"/><circle cx="606.8" cy="523" r="2"/></g><g fill="#fff" fill-opacity="0.95"><circle cx="605.8" cy="553.5" r="0.99"/><path d="" stroke="#fff" stroke-width="0.55" stroke-opacity="0.75" fill="none" stroke-linecap="round"/></g>
<g fill="#4d4d4d" stroke="#3b3b3b" stroke-width="0.5"><path stroke="none" d="M612.9 678.3 L612.9 612 L613.5 586.8 L614.8 579.2 L616.1 574.3 L617.4 571.5 L618.7 572.8 L620 570.1 L621.3 578.1 L622.6 597.5 L623.2 612 L623.2 678.3 L622 679.5 L614.1 679.5Z"/><circle cx="614.8" cy="588.3" r="2"/><circle cx="614.8" cy="580.7" r="2"/><circle cx="616.1" cy="575.8" r="2"/><circle cx="616" cy="575" r="2"/><circle cx="617.4" cy="573" r="2"/><circle cx="617" cy="564.2" r="2"/><circle cx="617.4" cy="566.6" r="2"/><circle cx="618.7" cy="574.3" r="2"/><circle cx="620" cy="571.6" r="2"/><circle cx="621.3" cy="579.6" r="2"/><circle cx="621.3" cy="598.9" r="2"/><circle cx="616.8" cy="548.6" r="2"/><circle cx="614.6" cy="557" r="2"/><circle cx="620" cy="560.6" r="2"/><circle cx="614.6" cy="566" r="2"/><circle cx="619.6" cy="566" r="2"/></g><g fill="#fff" fill-opacity="0.95"><path d="M617.5 568.8L617 577.6" stroke="#fff" stroke-width="0.55" stroke-opacity="0.75" fill="none" stroke-linecap="round"/></g>
<g fill="#999999" stroke="#868686" stroke-width="0.5"><path stroke="none" d="M623.8 678.3 L623.8 612 L624.4 590.4 L625.7 574.2 L627 562.6 L628.3 561.6 L629.6 564.3 L630.9 570.2 L632.2 574.9 L633.5 573.1 L634.8 567.8 L636.1 562.2 L637.4 554.9 L638.7 564.8 L640.2 612 L640.2 678.3 L639 679.5 L625 679.5Z"/><circle cx="625.7" cy="591.9" r="2"/><circle cx="625.7" cy="575.6" r="2"/><circle cx="627" cy="564" r="2"/><circle cx="628.3" cy="563.1" r="2"/><circle cx="629.6" cy="565.7" r="2"/><circle cx="630.9" cy="571.7" r="2"/><circle cx="631" cy="568.9" r="2"/><circle cx="632.2" cy="576.3" r="2"/><circle cx="633.5" cy="574.6" r="2"/><circle cx="634.8" cy="569.3" r="2"/><circle cx="636.1" cy="563.6" r="2"/><circle cx="637.4" cy="556.3" r="2"/><circle cx="638.2" cy="566.2" r="2"/><circle cx="637" cy="554" r="2"/><circle cx="628" cy="563" r="2"/></g><g fill="#fff" fill-opacity="0.95"><circle cx="627.2" cy="566.8" r="0.50"/><path d="M628.9 559.7L629.6 564.9" stroke="#fff" stroke-width="0.55" stroke-opacity="0.75" fill="none" stroke-linecap="round"/></g>
<g fill="#4d4d4d" stroke="#3b3b3b" stroke-width="0.5"><path stroke="none" d="M640.8 678.3 L640.8 612 L641.4 558.9 L642.7 553.2 L644 551.4 L645.3 549.9 L646.6 549.6 L647.9 553.3 L649.2 558.5 L650.5 563.4 L652.2 612 L652.2 678.3 L651 679.5 L642 679.5Z"/><circle cx="642.8" cy="560.4" r="2"/><circle cx="642.8" cy="554.7" r="2"/><circle cx="644" cy="552.8" r="2"/><circle cx="645.3" cy="551.4" r="2"/><circle cx="646.6" cy="551.1" r="2"/><circle cx="647.9" cy="554.8" r="2"/><circle cx="648.3" cy="552.1" r="2"/><circle cx="649.2" cy="560" r="2"/><circle cx="650.2" cy="564.9" r="2"/><circle cx="642.6" cy="503.6" r="2"/><circle cx="642.6" cy="522" r="2"/><circle cx="642.6" cy="526" r="2"/><circle cx="642.6" cy="529.4" r="2"/><circle cx="642.6" cy="533.4" r="2"/><circle cx="645.4" cy="540.6" r="2"/><circle cx="642" cy="545.6" r="2"/></g><g fill="#fff" fill-opacity="0.95"><circle cx="643.7" cy="558" r="0.47"/><circle cx="649.3" cy="559.3" r="0.60"/><path d="M644.2 548.1L644.4 555.8" stroke="#fff" stroke-width="0.55" stroke-opacity="0.75" fill="none" stroke-linecap="round"/></g>
<g fill="#999999" stroke="#868686" stroke-width="0.5"><path stroke="none" d="M653.2 678.3 L653.2 612 L653.8 571.4 L655.1 567.4 L656.4 563.9 L657.7 566.9 L659 565.2 L660.3 567.8 L661.6 578 L662.9 612 L662.9 678.3 L661.7 679.5 L654.4 679.5Z"/><circle cx="655.2" cy="572.9" r="2"/><circle cx="655.2" cy="568.8" r="2"/><circle cx="656.4" cy="565.3" r="2"/><circle cx="657.7" cy="568.4" r="2"/><circle cx="659" cy="566.6" r="2"/><circle cx="659.1" cy="565.2" r="2"/><circle cx="660.3" cy="569.3" r="2"/><circle cx="661" cy="579.5" r="2"/><circle cx="655.1" cy="551" r="2"/><circle cx="656.1" cy="553.7" r="2"/><circle cx="655.4" cy="556.8" r="2"/><circle cx="655.3" cy="559.5" r="2"/><circle cx="655.9" cy="562.2" r="2"/><circle cx="656.1" cy="564.8" r="2"/><circle cx="655.4" cy="538" r="2"/></g><g fill="#fff" fill-opacity="0.95"><circle cx="656.2" cy="568.6" r="0.68"/><circle cx="657.5" cy="567.7" r="0.54"/><path d="M658 564.1L656.7 568.9" stroke="#fff" stroke-width="0.55" stroke-opacity="0.75" fill="none" stroke-linecap="round"/></g>
<line x1="62.4" y1="462.9" x2="660.6" y2="462.9" stroke="#a6a6a6" stroke-width="1.9"/>
<g stroke="#7f7f7f" stroke-width="1.7" fill="none" stroke-linejoin="round">
<path d="M57 677.9H62.1V458.4"/>
<path d="M61.5 691.6V686.7H661"/>
</g>
<g stroke="#333" stroke-width="1.1" fill="none">
<path d="M56.8 646.5H62"/>
<path d="M56.8 615.2H62"/>
<path d="M56.8 583.8H62"/>
<path d="M56.8 552.5H62"/>
<path d="M56.8 521.1H62"/>
<path d="M56.8 489.7H62"/>
<path d="M56.8 458.4H62"/>
<path d="M78.1 686.7V691.6"/>
<path d="M118.4 686.7V691.6"/>
<path d="M165.3 686.7V691.6"/>
<path d="M197.7 686.7V691.6"/>
<path d="M222.7 686.7V691.6"/>
<path d="M247.6 686.7V691.6"/>
<path d="M274 686.7V691.6"/>
<path d="M301.5 686.7V691.6"/>
<path d="M322.9 686.7V691.6"/>
<path d="M342.9 686.7V691.6"/>
<path d="M365.2 686.7V691.6"/>
<path d="M389.2 686.7V691.6"/>
<path d="M410.9 686.7V691.6"/>
<path d="M426.7 686.7V691.6"/>
<path d="M441.1 686.7V691.6"/>
<path d="M455.8 686.7V691.6"/>
<path d="M470.1 686.7V691.6"/>
<path d="M483.3 686.7V691.6"/>
<path d="M493.7 686.7V691.6"/>
<path d="M511.1 686.7V691.6"/>
<path d="M535.6 686.7V691.6"/>
<path d="M553.7 686.7V691.6"/>
<path d="M566.7 686.7V691.6"/>
<path d="M580.8 686.7V691.6"/>
<path d="M594.7 686.7V691.6"/>
<path d="M607.5 686.7V691.6"/>
<path d="M618 686.7V691.6"/>
<path d="M632 686.7V691.6"/>
<path d="M646.5 686.7V691.6"/>
<path d="M658.1 686.7V691.6"/>
</g>
<g font-family="'Liberation Sans', Arial, sans-serif" font-weight="bold" font-size="8.4px" fill="#1a1a1a" text-anchor="middle">
<text x="49.9" y="681.2">0</text>
<text x="49.9" y="649.8">1</text>
<text x="49.9" y="618.5">2</text>
<text x="49.9" y="587.1">3</text>
<text x="49.9" y="555.8">4</text>
<text x="49.9" y="524.4">5</text>
<text x="49.9" y="493">6</text>
<text x="49.9" y="461.7">7</text>
<text x="61.9" y="704.7">Chr</text>
<text x="118.4" y="704.7">2</text>
<text x="165.3" y="704.7">3</text>
<text x="197.7" y="704.7">4</text>
<text x="222.7" y="704.7">5</text>
<text x="247.6" y="704.7">6</text>
<text x="274" y="704.7">7</text>
<text x="301.5" y="704.7">8</text>
<text x="322.9" y="704.7">9</text>
<text x="342.9" y="704.7">10</text>
<text x="365.2" y="704.7">11</text>
<text x="389.2" y="704.7">12</text>
<text x="410.9" y="704.7">13</text>
<text x="441.1" y="704.7">15</text>
<text x="470.1" y="704.7">17</text>
<text x="493.7" y="704.7">19</text>
<text x="511.1" y="704.7">20</text>
<text x="535.6" y="704.7">21</text>
<text x="553.7" y="704.7">22</text>
<text x="580.8" y="704.7">24</text>
<text x="607.5" y="704.7">26</text>
<text x="632" y="704.7">28</text>
<text x="658.1" y="704.7">30</text>
</g>
<text transform="translate(27.2 568.2) rotate(-90)" text-anchor="middle" font-family="'Liberation Sans', Arial, sans-serif" font-size="13.6px" fill="#333">−log<tspan font-size="9.4px" dy="2.3">10</tspan><tspan dy="-2.3">(</tspan><tspan font-style="italic">p</tspan>)</text>
</g>
<text x="44" y="71" font-family="'Liberation Serif', 'Times New Roman', serif" font-size="43px" fill="#111">a</text>
<text x="43.6" y="418.5" font-family="'Liberation Serif', 'Times New Roman', serif" font-size="38.8px" fill="#111">b</text>
<g id="qq-a">
<path d="M849 255.6 L870 237.6 L888 222.3 L897.8 214.2 L907.4 206 L917.1 197.2 L927 187.5 L937 175.5 L947 161.5 L955 148.5 L963 133.5 L969.4 123 L969.6 181 L957 184 L947 187.2 L937 191.5 L927 197.2 L917.1 203 L907.4 209.6 L897.8 216.6 L888 223.8 L870 238.6 L849 256.2 Z" fill="#7f7f7f"/>
<path d="M745.2 345 L808.2 291.6 L830 272.9 L844.5 259.3 L854.2 248.9 L860 242.6 L863.9 241.1 L868.7 235.3 L875.5 227.6 L879.4 223.7 L882.3 218.9 L888.1 214 L891.5 210.2 L892.4 206.3 L893.9 203.4 L895.8 194.7 L898.7 191.3 L903.1 190.3 L904.5 186.5 L910.5 186 L911.9 182.8 L913.4 180.8 L916.3 179.9 L917.3 176.5 L918.7 174.5 L919.7 173.1 L921.1 172.6 M921.8 169.4 L921.8 169.4 M922.6 164.1 L928.4 164.4 M930.3 161.2 L931.8 161 M933.7 159 L933.7 159 M936.1 157.4 L936.1 157.4 M938.8 156.9 L938.8 156.9 M942.1 146.7 L942.1 146.7 M946.8 146.7 L946.8 146.7 M953.9 146.7 L953.9 146.7 M968.9 146.7 L968.9 146.7" fill="none" stroke="#f00" stroke-width="2.5" stroke-linecap="round" stroke-linejoin="round"/>
<path d="M745.4 345.4 L969 157.3" stroke="#000" stroke-width="2" stroke-linecap="round"/>
<rect x="734.2" y="112.4" width="246.2" height="243.6" fill="none" stroke="#2a2a2a" stroke-width="1.1"/>
<g stroke="#2a2a2a" stroke-width="1">
<path d="M730.2 345.4H734.2"/>
<path d="M730.2 292.5H734.2"/>
<path d="M730.2 239.6H734.2"/>
<path d="M730.2 186.7H734.2"/>
<path d="M730.2 133.8H734.2"/>
<path d="M745.4 356V360"/>
<path d="M808.3 356V360"/>
<path d="M871.2 356V360"/>
<path d="M934.1 356V360"/>
</g>
<g font-family="'Liberation Serif', 'Times New Roman', serif" font-size="10px" fill="#111">
<text x="726" y="348.6" text-anchor="end">0</text>
<text x="726" y="295.7" text-anchor="end">2</text>
<text x="726" y="242.8" text-anchor="end">4</text>
<text x="726" y="189.9" text-anchor="end">6</text>
<text x="726" y="137" text-anchor="end">8</text>
<text x="745.4" y="372.5" text-anchor="middle">0</text>
<text x="808.3" y="372.5" text-anchor="middle">2</text>
<text x="871.2" y="372.5" text-anchor="middle">4</text>
<text x="934.1" y="372.5" text-anchor="middle">6</text>
</g>
<text x="857.3" y="389" text-anchor="middle" font-family="'Liberation Serif', 'Times New Roman', serif" font-size="12.6px" fill="#111">Expected -log10(<tspan font-family="'Liberation Sans', Arial, sans-serif" font-style="italic" font-size="11.4px">P</tspan>)</text>
<text transform="translate(712.4 234.2) rotate(-90)" text-anchor="middle" font-family="'Liberation Serif', 'Times New Roman', serif" font-size="12.6px" fill="#111">Observed -log10(<tspan font-family="'Liberation Sans', Arial, sans-serif" font-style="italic" font-size="11.4px">P</tspan>)</text>
<text x="756" y="156.6" font-family="'Liberation Serif', 'Times New Roman', serif" font-size="27.2px" fill="#111">λ=1.019</text>
</g>
<g id="qq-b">
<path d="M862 574 L880 558.6 L891.3 548.2 L898.1 541.6 L907.8 531.5 L917.4 520.8 L923.4 513.9 L929.2 507.1 L935 500.3 L940.8 492.6 L946.6 483.9 L952.4 474.2 L958.3 463.6 L964.1 452.9 L964.5 509.5 L958.3 511.5 L952.4 513.9 L946.6 516.8 L940.8 519.7 L935 523.1 L927.1 528.1 L917.4 534.4 L907.8 540.3 L898.1 546.6 L891.3 551.4 L880 560 L862 574.6 Z" fill="#7f7f7f"/>
<path d="M744.4 671.9 L806.4 620.6 L840 593.2 L862.3 574.7 L875.8 560 L881.6 554.2 L886.5 548.4 L890.3 542.6 L894.2 535.8 L898.1 533.4 L902 531 L902.9 526.1 L906.8 523.7 L913.6 524.2 M915 519.8 L916.8 518.7 M917.7 511.6 L917.7 511.6 M918.9 509.7 L918.9 509.7 M920.3 506.8 L930 506.8 M931.6 500.3 L934.8 499.9 M937.9 490.9 L937.9 490.9 M942.5 490.9 L942.5 490.9 M949.3 490.9 L949.3 490.9 M964.1 490.9 L964.1 490.9" fill="none" stroke="#f00" stroke-width="2.5" stroke-linecap="round" stroke-linejoin="round"/>
<path d="M744.4 671.6 L964.8 486.4" stroke="#000" stroke-width="2" stroke-linecap="round"/>
<rect x="733.6" y="442.4" width="241.8" height="240.2" fill="none" stroke="#2a2a2a" stroke-width="1.1"/>
<g stroke="#2a2a2a" stroke-width="1">
<path d="M729.6 671.6H733.6"/>
<path d="M729.6 619.5H733.6"/>
<path d="M729.6 567.4H733.6"/>
<path d="M729.6 515.3H733.6"/>
<path d="M729.6 463.2H733.6"/>
<path d="M744.4 682.6V686.6"/>
<path d="M806.4 682.6V686.6"/>
<path d="M868.4 682.6V686.6"/>
<path d="M930.4 682.6V686.6"/>
</g>
<g font-family="'Liberation Serif', 'Times New Roman', serif" font-size="10px" fill="#111">
<text x="725.4" y="674.8" text-anchor="end">0</text>
<text x="725.4" y="622.7" text-anchor="end">2</text>
<text x="725.4" y="570.6" text-anchor="end">4</text>
<text x="725.4" y="518.5" text-anchor="end">6</text>
<text x="725.4" y="466.4" text-anchor="end">8</text>
<text x="744.4" y="699.1" text-anchor="middle">0</text>
<text x="806.4" y="699.1" text-anchor="middle">2</text>
<text x="868.4" y="699.1" text-anchor="middle">4</text>
<text x="930.4" y="699.1" text-anchor="middle">6</text>
</g>
<text x="854.5" y="715" text-anchor="middle" font-family="'Liberation Serif', 'Times New Roman', serif" font-size="12.6px" fill="#111">Expected -log10(<tspan font-family="'Liberation Sans', Arial, sans-serif" font-style="italic" font-size="11.4px">P</tspan>)</text>
<text transform="translate(711.6 562.5) rotate(-90)" text-anchor="middle" font-family="'Liberation Serif', 'Times New Roman', serif" font-size="12.6px" fill="#111">Observed -log10(<tspan font-family="'Liberation Sans', Arial, sans-serif" font-style="italic" font-size="11.4px">P</tspan>)</text>
<text x="751.6" y="487" font-family="'Liberation Serif', 'Times New Roman', serif" font-size="27.2px" fill="#111">λ=1.009</text>
</g>
</svg>
</body></html>
